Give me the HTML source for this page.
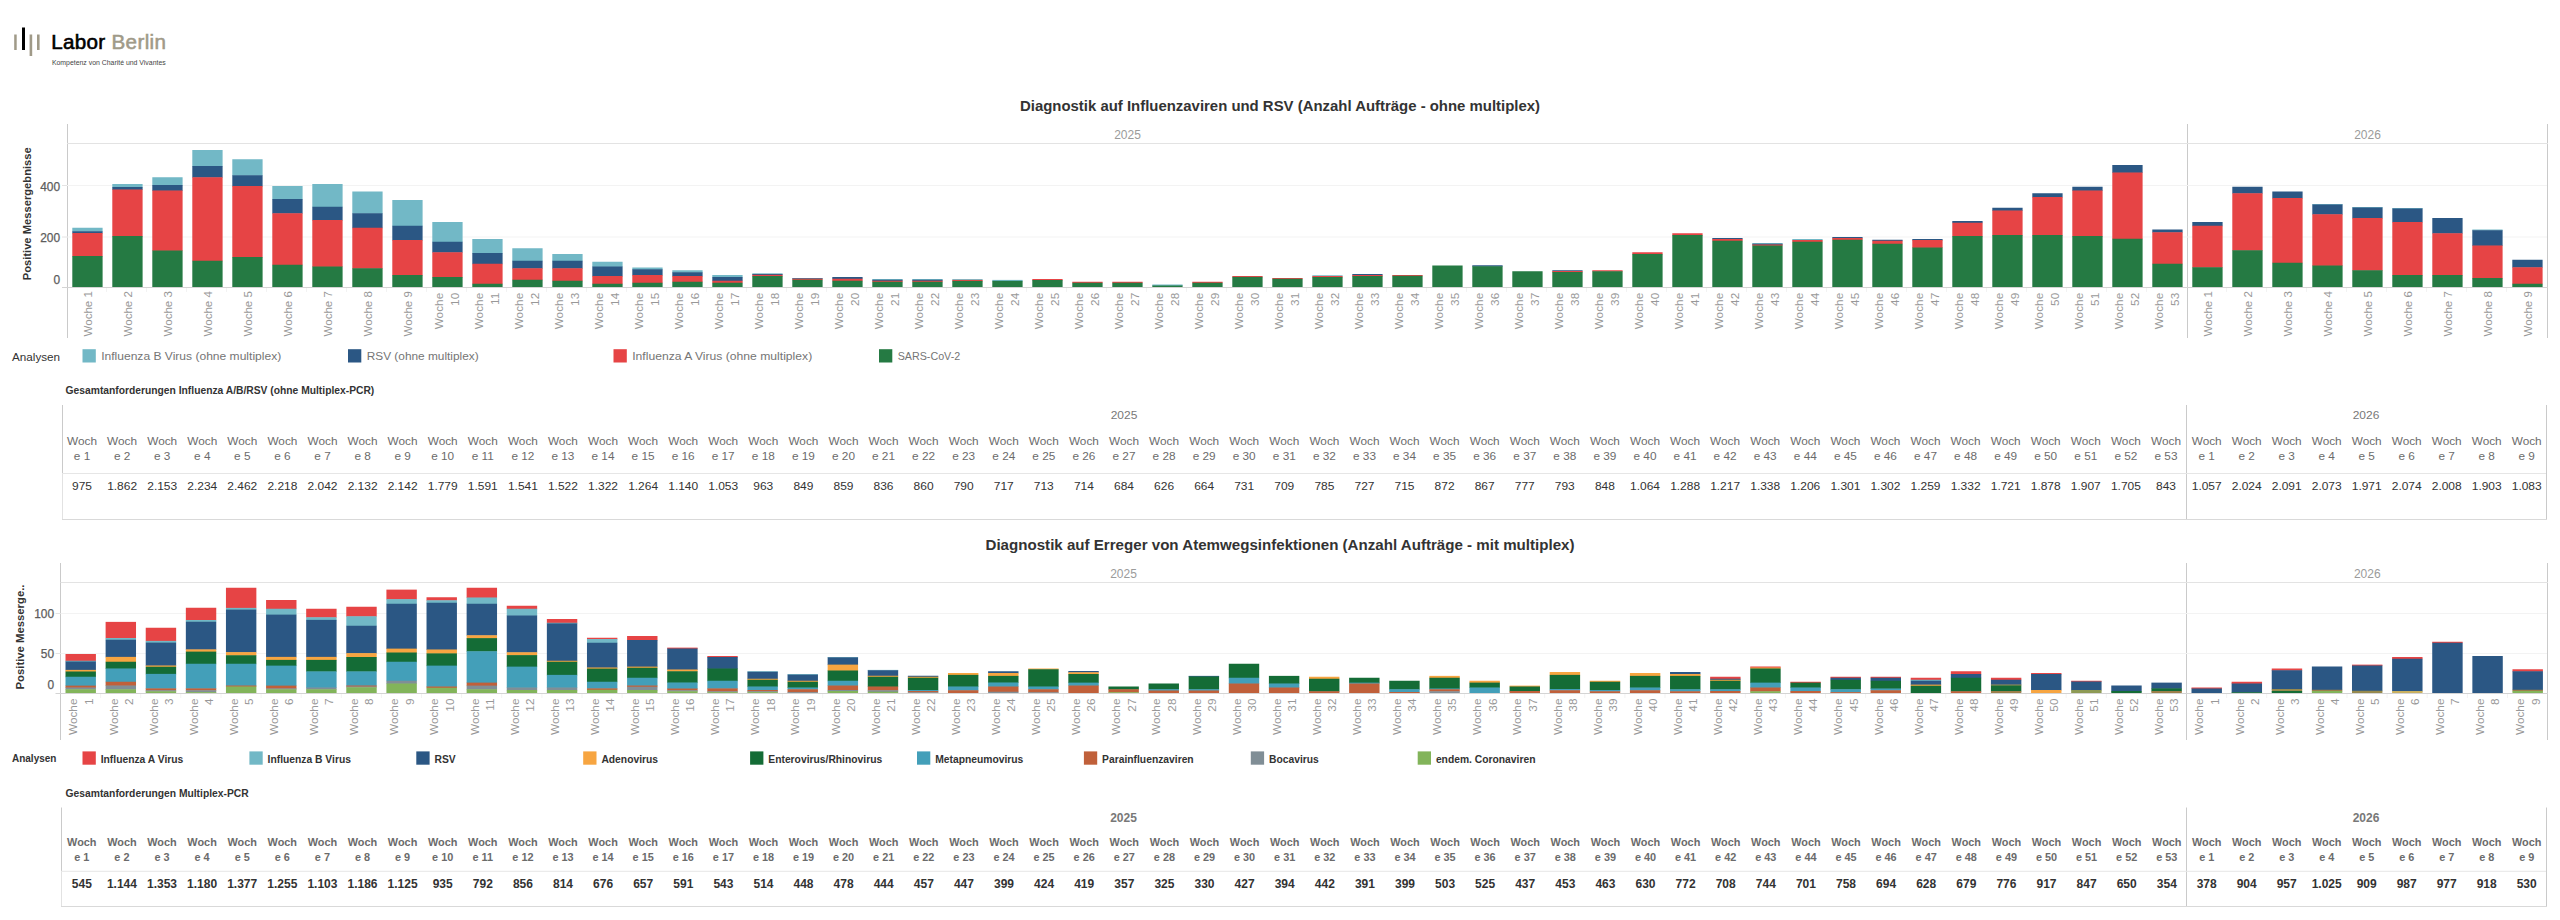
<!DOCTYPE html>
<html lang="de"><head><meta charset="utf-8"><title>Labor Berlin - Diagnostik</title>
<style>html,body{margin:0;padding:0;background:#fff}body{width:2560px;height:920px;overflow:hidden;position:relative}svg{position:absolute;left:0;top:0;display:block}text{font-family:"Liberation Sans", sans-serif;}.b{font-weight:bold}.wk{fill:#989898;font-size:11.8px}.wk1{font-size:11.55px}.tk{fill:#5c5c5c;font-size:11.9px;stroke:#5c5c5c;stroke-width:0.25px}.yr{fill:#9b9b9b;font-size:12px}.th{fill:#6b6b6b;font-size:11.8px}.tv{fill:#333;font-size:12px}.lg{font-size:11.4px;fill:#757575}.tvr{font-size:11.3px}.thb{font-size:10.9px}.lg2{font-size:10.3px;fill:#333;font-weight:bold}</style></head><body>
<svg width="2560" height="920" viewBox="0 0 2560 920">
<rect x="14.20" y="34.50" width="2.50" height="15.50" fill="#a09a88"/>
<rect x="22.00" y="27.50" width="3.00" height="22.50" fill="#000"/>
<rect x="29.60" y="34.50" width="2.60" height="21.50" fill="#a09a88"/>
<rect x="37.00" y="34.50" width="2.60" height="15.50" fill="#a09a88"/>
<text x="51.3" y="49" font-size="20.6" fill="#000" stroke="#000" stroke-width="0.6" letter-spacing="0.3" id="lg1">Labor</text>
<text x="111.4" y="49" font-size="20.6" fill="#a09a88" id="lg2" letter-spacing="0.4" stroke="#a09a88" stroke-width="0.55">Berlin</text>
<text x="51.9" y="65" font-size="7.2" fill="#444" id="lg3" textLength="113.8" lengthAdjust="spacingAndGlyphs">Kompetenz von Charité und Vivantes</text>
<text id="title1" textLength="520" lengthAdjust="spacingAndGlyphs" x="1280" y="110.6" text-anchor="middle" font-size="15.3" class="b" fill="#333">Diagnostik auf Influenzaviren und RSV (Anzahl Aufträge - ohne multiplex)</text>
<text id="title2" textLength="589" lengthAdjust="spacingAndGlyphs" x="1280" y="549.6" text-anchor="middle" font-size="15.3" class="b" fill="#333">Diagnostik auf Erreger von Atemwegsinfektionen (Anzahl Aufträge - mit multiplex)</text>
<line x1="67.5" y1="124" x2="67.5" y2="338" stroke="#cacaca" stroke-width="1"/>
<line x1="2187.5" y1="124" x2="2187.5" y2="338" stroke="#cacaca" stroke-width="1"/>
<line x1="2547.5" y1="124" x2="2547.5" y2="338" stroke="#cacaca" stroke-width="1"/>
<line x1="67" y1="143.5" x2="2548" y2="143.5" stroke="#e3e3e3" stroke-width="1"/>
<line x1="67" y1="185.5" x2="2547" y2="185.5" stroke="#f3f3f3" stroke-width="1"/>
<line x1="67" y1="237" x2="2547" y2="237" stroke="#f3f3f3" stroke-width="1"/>
<line x1="62" y1="185.5" x2="67" y2="185.5" stroke="#e4e4e4" stroke-width="1"/>
<line x1="62" y1="237" x2="67" y2="237" stroke="#e4e4e4" stroke-width="1"/>
<text x="1127.5" y="139" class="yr" text-anchor="middle" >2025</text>
<text x="2367.5" y="139" class="yr" text-anchor="middle" >2026</text>
<rect x="72.30" y="227.75" width="30.30" height="3.95" fill="#72b8c6"/>
<rect x="72.30" y="231.25" width="30.30" height="2.20" fill="#2b5784"/>
<rect x="72.30" y="233.00" width="30.30" height="23.45" fill="#e64445"/>
<rect x="72.30" y="256.00" width="30.30" height="31.00" fill="#257a43"/>
<rect x="112.30" y="184.00" width="30.30" height="3.45" fill="#72b8c6"/>
<rect x="112.30" y="187.00" width="30.30" height="2.95" fill="#2b5784"/>
<rect x="112.30" y="189.50" width="30.30" height="46.95" fill="#e64445"/>
<rect x="112.30" y="236.00" width="30.30" height="51.00" fill="#257a43"/>
<rect x="152.30" y="177.25" width="30.30" height="8.20" fill="#72b8c6"/>
<rect x="152.30" y="185.00" width="30.30" height="5.95" fill="#2b5784"/>
<rect x="152.30" y="190.50" width="30.30" height="60.45" fill="#e64445"/>
<rect x="152.30" y="250.50" width="30.30" height="36.50" fill="#257a43"/>
<rect x="192.30" y="150.00" width="30.30" height="16.45" fill="#72b8c6"/>
<rect x="192.30" y="166.00" width="30.30" height="11.70" fill="#2b5784"/>
<rect x="192.30" y="177.25" width="30.30" height="83.95" fill="#e64445"/>
<rect x="192.30" y="260.75" width="30.30" height="26.25" fill="#257a43"/>
<rect x="232.30" y="159.25" width="30.30" height="16.45" fill="#72b8c6"/>
<rect x="232.30" y="175.25" width="30.30" height="11.20" fill="#2b5784"/>
<rect x="232.30" y="186.00" width="30.30" height="71.45" fill="#e64445"/>
<rect x="232.30" y="257.00" width="30.30" height="30.00" fill="#257a43"/>
<rect x="272.30" y="186.00" width="30.30" height="13.45" fill="#72b8c6"/>
<rect x="272.30" y="199.00" width="30.30" height="14.70" fill="#2b5784"/>
<rect x="272.30" y="213.25" width="30.30" height="51.95" fill="#e64445"/>
<rect x="272.30" y="264.75" width="30.30" height="22.25" fill="#257a43"/>
<rect x="312.30" y="184.00" width="30.30" height="23.20" fill="#72b8c6"/>
<rect x="312.30" y="206.75" width="30.30" height="13.70" fill="#2b5784"/>
<rect x="312.30" y="220.00" width="30.30" height="46.95" fill="#e64445"/>
<rect x="312.30" y="266.50" width="30.30" height="20.50" fill="#257a43"/>
<rect x="352.30" y="191.50" width="30.30" height="22.20" fill="#72b8c6"/>
<rect x="352.30" y="213.25" width="30.30" height="14.95" fill="#2b5784"/>
<rect x="352.30" y="227.75" width="30.30" height="40.95" fill="#e64445"/>
<rect x="352.30" y="268.25" width="30.30" height="18.75" fill="#257a43"/>
<rect x="392.30" y="200.00" width="30.30" height="26.20" fill="#72b8c6"/>
<rect x="392.30" y="225.75" width="30.30" height="14.70" fill="#2b5784"/>
<rect x="392.30" y="240.00" width="30.30" height="35.45" fill="#e64445"/>
<rect x="392.30" y="275.00" width="30.30" height="12.00" fill="#257a43"/>
<rect x="432.30" y="222.00" width="30.30" height="20.20" fill="#72b8c6"/>
<rect x="432.30" y="241.75" width="30.30" height="10.95" fill="#2b5784"/>
<rect x="432.30" y="252.25" width="30.30" height="25.20" fill="#e64445"/>
<rect x="432.30" y="277.00" width="30.30" height="10.00" fill="#257a43"/>
<rect x="472.30" y="239.00" width="30.30" height="14.45" fill="#72b8c6"/>
<rect x="472.30" y="253.00" width="30.30" height="11.20" fill="#2b5784"/>
<rect x="472.30" y="263.75" width="30.30" height="20.45" fill="#e64445"/>
<rect x="472.30" y="283.75" width="30.30" height="3.25" fill="#257a43"/>
<rect x="512.30" y="248.25" width="30.30" height="12.95" fill="#72b8c6"/>
<rect x="512.30" y="260.75" width="30.30" height="7.95" fill="#2b5784"/>
<rect x="512.30" y="268.25" width="30.30" height="11.95" fill="#e64445"/>
<rect x="512.30" y="279.75" width="30.30" height="7.25" fill="#257a43"/>
<rect x="552.30" y="254.00" width="30.30" height="7.20" fill="#72b8c6"/>
<rect x="552.30" y="260.75" width="30.30" height="7.95" fill="#2b5784"/>
<rect x="552.30" y="268.25" width="30.30" height="12.95" fill="#e64445"/>
<rect x="552.30" y="280.75" width="30.30" height="6.25" fill="#257a43"/>
<rect x="592.30" y="261.75" width="30.30" height="5.20" fill="#72b8c6"/>
<rect x="592.30" y="266.50" width="30.30" height="9.95" fill="#2b5784"/>
<rect x="592.30" y="276.00" width="30.30" height="8.20" fill="#e64445"/>
<rect x="592.30" y="283.75" width="30.30" height="3.25" fill="#257a43"/>
<rect x="632.30" y="267.50" width="30.30" height="2.20" fill="#72b8c6"/>
<rect x="632.30" y="269.25" width="30.30" height="6.20" fill="#2b5784"/>
<rect x="632.30" y="275.00" width="30.30" height="8.20" fill="#e64445"/>
<rect x="632.30" y="282.75" width="30.30" height="4.25" fill="#257a43"/>
<rect x="672.30" y="270.25" width="30.30" height="2.45" fill="#72b8c6"/>
<rect x="672.30" y="272.25" width="30.30" height="4.20" fill="#2b5784"/>
<rect x="672.30" y="276.00" width="30.30" height="6.20" fill="#e64445"/>
<rect x="672.30" y="281.75" width="30.30" height="5.25" fill="#257a43"/>
<rect x="712.30" y="275.00" width="30.30" height="2.45" fill="#72b8c6"/>
<rect x="712.30" y="277.00" width="30.30" height="4.20" fill="#2b5784"/>
<rect x="712.30" y="280.75" width="30.30" height="2.45" fill="#e64445"/>
<rect x="712.30" y="282.75" width="30.30" height="4.25" fill="#257a43"/>
<rect x="752.30" y="273.30" width="30.30" height="1.15" fill="#72b8c6"/>
<rect x="752.30" y="274.00" width="30.30" height="1.25" fill="#2b5784"/>
<rect x="752.30" y="274.80" width="30.30" height="1.65" fill="#e64445"/>
<rect x="752.30" y="276.00" width="30.30" height="11.00" fill="#257a43"/>
<rect x="792.30" y="278.00" width="30.30" height="0.70" fill="#72b8c6"/>
<rect x="792.30" y="278.25" width="30.30" height="0.95" fill="#2b5784"/>
<rect x="792.30" y="278.75" width="30.30" height="1.45" fill="#e64445"/>
<rect x="792.30" y="279.75" width="30.30" height="7.25" fill="#257a43"/>
<rect x="832.30" y="277.00" width="30.30" height="2.20" fill="#2b5784"/>
<rect x="832.30" y="278.75" width="30.30" height="2.45" fill="#e64445"/>
<rect x="832.30" y="280.75" width="30.30" height="6.25" fill="#257a43"/>
<rect x="872.30" y="279.00" width="30.30" height="1.20" fill="#72b8c6"/>
<rect x="872.30" y="279.75" width="30.30" height="1.45" fill="#2b5784"/>
<rect x="872.30" y="280.75" width="30.30" height="1.45" fill="#e64445"/>
<rect x="872.30" y="281.75" width="30.30" height="5.25" fill="#257a43"/>
<rect x="912.30" y="279.00" width="30.30" height="1.20" fill="#72b8c6"/>
<rect x="912.30" y="279.75" width="30.30" height="1.45" fill="#2b5784"/>
<rect x="912.30" y="280.75" width="30.30" height="1.45" fill="#e64445"/>
<rect x="912.30" y="281.75" width="30.30" height="5.25" fill="#257a43"/>
<rect x="952.30" y="279.10" width="30.30" height="1.25" fill="#72b8c6"/>
<rect x="952.30" y="279.90" width="30.30" height="1.45" fill="#e64445"/>
<rect x="952.30" y="280.90" width="30.30" height="6.10" fill="#257a43"/>
<rect x="992.30" y="279.90" width="30.30" height="1.45" fill="#72b8c6"/>
<rect x="992.30" y="280.90" width="30.30" height="6.10" fill="#257a43"/>
<rect x="1032.30" y="279.00" width="30.30" height="1.45" fill="#e64445"/>
<rect x="1032.30" y="280.00" width="30.30" height="7.00" fill="#257a43"/>
<rect x="1072.30" y="281.75" width="30.30" height="1.45" fill="#e64445"/>
<rect x="1072.30" y="282.75" width="30.30" height="4.25" fill="#257a43"/>
<rect x="1112.30" y="281.75" width="30.30" height="1.45" fill="#e64445"/>
<rect x="1112.30" y="282.75" width="30.30" height="4.25" fill="#257a43"/>
<rect x="1152.30" y="284.50" width="30.30" height="1.45" fill="#72b8c6"/>
<rect x="1152.30" y="285.50" width="30.30" height="1.50" fill="#257a43"/>
<rect x="1192.30" y="281.75" width="30.30" height="1.45" fill="#e64445"/>
<rect x="1192.30" y="282.75" width="30.30" height="4.25" fill="#257a43"/>
<rect x="1232.30" y="276.00" width="30.30" height="1.35" fill="#e64445"/>
<rect x="1232.30" y="276.90" width="30.30" height="10.10" fill="#257a43"/>
<rect x="1272.30" y="278.00" width="30.30" height="1.20" fill="#e64445"/>
<rect x="1272.30" y="278.75" width="30.30" height="8.25" fill="#257a43"/>
<rect x="1312.30" y="275.25" width="30.30" height="1.20" fill="#72b8c6"/>
<rect x="1312.30" y="276.00" width="30.30" height="1.45" fill="#e64445"/>
<rect x="1312.30" y="277.00" width="30.30" height="10.00" fill="#257a43"/>
<rect x="1352.30" y="274.00" width="30.30" height="1.45" fill="#2b5784"/>
<rect x="1352.30" y="275.00" width="30.30" height="1.45" fill="#e64445"/>
<rect x="1352.30" y="276.00" width="30.30" height="11.00" fill="#257a43"/>
<rect x="1392.30" y="275.00" width="30.30" height="1.20" fill="#e64445"/>
<rect x="1392.30" y="275.75" width="30.30" height="11.25" fill="#257a43"/>
<rect x="1432.30" y="265.50" width="30.30" height="21.50" fill="#257a43"/>
<rect x="1472.30" y="265.25" width="30.30" height="1.45" fill="#2b5784"/>
<rect x="1472.30" y="266.25" width="30.30" height="20.75" fill="#257a43"/>
<rect x="1512.30" y="271.25" width="30.30" height="15.75" fill="#257a43"/>
<rect x="1552.30" y="270.25" width="30.30" height="1.20" fill="#2b5784"/>
<rect x="1552.30" y="271.00" width="30.30" height="1.45" fill="#e64445"/>
<rect x="1552.30" y="272.00" width="30.30" height="15.00" fill="#257a43"/>
<rect x="1592.30" y="270.25" width="30.30" height="1.45" fill="#e64445"/>
<rect x="1592.30" y="271.25" width="30.30" height="15.75" fill="#257a43"/>
<rect x="1632.30" y="252.25" width="30.30" height="2.20" fill="#e64445"/>
<rect x="1632.30" y="254.00" width="30.30" height="33.00" fill="#257a43"/>
<rect x="1672.30" y="233.25" width="30.30" height="2.20" fill="#e64445"/>
<rect x="1672.30" y="235.00" width="30.30" height="52.00" fill="#257a43"/>
<rect x="1712.30" y="238.00" width="30.30" height="1.45" fill="#2b5784"/>
<rect x="1712.30" y="239.00" width="30.30" height="2.20" fill="#e64445"/>
<rect x="1712.30" y="240.75" width="30.30" height="46.25" fill="#257a43"/>
<rect x="1752.30" y="243.00" width="30.30" height="1.20" fill="#72b8c6"/>
<rect x="1752.30" y="243.75" width="30.30" height="1.20" fill="#2b5784"/>
<rect x="1752.30" y="244.50" width="30.30" height="1.45" fill="#e64445"/>
<rect x="1752.30" y="245.50" width="30.30" height="41.50" fill="#257a43"/>
<rect x="1792.30" y="239.00" width="30.30" height="1.45" fill="#72b8c6"/>
<rect x="1792.30" y="240.00" width="30.30" height="2.20" fill="#e64445"/>
<rect x="1792.30" y="241.75" width="30.30" height="45.25" fill="#257a43"/>
<rect x="1832.30" y="237.00" width="30.30" height="1.45" fill="#2b5784"/>
<rect x="1832.30" y="238.00" width="30.30" height="2.20" fill="#e64445"/>
<rect x="1832.30" y="239.75" width="30.30" height="47.25" fill="#257a43"/>
<rect x="1872.30" y="239.75" width="30.30" height="1.45" fill="#2b5784"/>
<rect x="1872.30" y="240.75" width="30.30" height="3.45" fill="#e64445"/>
<rect x="1872.30" y="243.75" width="30.30" height="43.25" fill="#257a43"/>
<rect x="1912.30" y="239.00" width="30.30" height="1.45" fill="#2b5784"/>
<rect x="1912.30" y="240.00" width="30.30" height="7.95" fill="#e64445"/>
<rect x="1912.30" y="247.50" width="30.30" height="39.50" fill="#257a43"/>
<rect x="1952.30" y="221.00" width="30.30" height="2.20" fill="#2b5784"/>
<rect x="1952.30" y="222.75" width="30.30" height="13.70" fill="#e64445"/>
<rect x="1952.30" y="236.00" width="30.30" height="51.00" fill="#257a43"/>
<rect x="1992.30" y="207.75" width="30.30" height="3.20" fill="#2b5784"/>
<rect x="1992.30" y="210.50" width="30.30" height="24.95" fill="#e64445"/>
<rect x="1992.30" y="235.00" width="30.30" height="52.00" fill="#257a43"/>
<rect x="2032.30" y="193.25" width="30.30" height="4.20" fill="#2b5784"/>
<rect x="2032.30" y="197.00" width="30.30" height="38.45" fill="#e64445"/>
<rect x="2032.30" y="235.00" width="30.30" height="52.00" fill="#257a43"/>
<rect x="2072.30" y="186.75" width="30.30" height="4.20" fill="#2b5784"/>
<rect x="2072.30" y="190.50" width="30.30" height="45.95" fill="#e64445"/>
<rect x="2072.30" y="236.00" width="30.30" height="51.00" fill="#257a43"/>
<rect x="2112.30" y="165.00" width="30.30" height="7.95" fill="#2b5784"/>
<rect x="2112.30" y="172.50" width="30.30" height="66.70" fill="#e64445"/>
<rect x="2112.30" y="238.75" width="30.30" height="48.25" fill="#257a43"/>
<rect x="2152.30" y="229.50" width="30.30" height="3.20" fill="#2b5784"/>
<rect x="2152.30" y="232.25" width="30.30" height="31.95" fill="#e64445"/>
<rect x="2152.30" y="263.75" width="30.30" height="23.25" fill="#257a43"/>
<rect x="2192.30" y="222.00" width="30.30" height="4.20" fill="#2b5784"/>
<rect x="2192.30" y="225.75" width="30.30" height="41.95" fill="#e64445"/>
<rect x="2192.30" y="267.25" width="30.30" height="19.75" fill="#257a43"/>
<rect x="2232.30" y="186.75" width="30.30" height="6.95" fill="#2b5784"/>
<rect x="2232.30" y="193.25" width="30.30" height="57.45" fill="#e64445"/>
<rect x="2232.30" y="250.25" width="30.30" height="36.75" fill="#257a43"/>
<rect x="2272.30" y="191.50" width="30.30" height="6.95" fill="#2b5784"/>
<rect x="2272.30" y="198.00" width="30.30" height="65.20" fill="#e64445"/>
<rect x="2272.30" y="262.75" width="30.30" height="24.25" fill="#257a43"/>
<rect x="2312.30" y="204.00" width="30.30" height="0.95" fill="#72b8c6"/>
<rect x="2312.30" y="204.50" width="30.30" height="10.20" fill="#2b5784"/>
<rect x="2312.30" y="214.25" width="30.30" height="51.70" fill="#e64445"/>
<rect x="2312.30" y="265.50" width="30.30" height="21.50" fill="#257a43"/>
<rect x="2352.30" y="207.00" width="30.30" height="0.95" fill="#72b8c6"/>
<rect x="2352.30" y="207.50" width="30.30" height="10.95" fill="#2b5784"/>
<rect x="2352.30" y="218.00" width="30.30" height="52.70" fill="#e64445"/>
<rect x="2352.30" y="270.25" width="30.30" height="16.75" fill="#257a43"/>
<rect x="2392.30" y="208.00" width="30.30" height="0.95" fill="#72b8c6"/>
<rect x="2392.30" y="208.50" width="30.30" height="13.95" fill="#2b5784"/>
<rect x="2392.30" y="222.00" width="30.30" height="53.45" fill="#e64445"/>
<rect x="2392.30" y="275.00" width="30.30" height="12.00" fill="#257a43"/>
<rect x="2432.30" y="218.00" width="30.30" height="15.70" fill="#2b5784"/>
<rect x="2432.30" y="233.25" width="30.30" height="42.20" fill="#e64445"/>
<rect x="2432.30" y="275.00" width="30.30" height="12.00" fill="#257a43"/>
<rect x="2472.30" y="229.50" width="30.30" height="1.20" fill="#72b8c6"/>
<rect x="2472.30" y="230.25" width="30.30" height="15.70" fill="#2b5784"/>
<rect x="2472.30" y="245.50" width="30.30" height="32.95" fill="#e64445"/>
<rect x="2472.30" y="278.00" width="30.30" height="9.00" fill="#257a43"/>
<rect x="2512.30" y="259.75" width="30.30" height="7.95" fill="#2b5784"/>
<rect x="2512.30" y="267.25" width="30.30" height="16.95" fill="#e64445"/>
<rect x="2512.30" y="283.75" width="30.30" height="3.25" fill="#257a43"/>
<line x1="62" y1="287.5" x2="2548" y2="287.5" stroke="#d4d4d4" stroke-width="1"/>
<line x1="106.5" y1="288" x2="106.5" y2="292" stroke="#f3f3f3" stroke-width="1"/>
<line x1="146.5" y1="288" x2="146.5" y2="292" stroke="#f3f3f3" stroke-width="1"/>
<line x1="186.5" y1="288" x2="186.5" y2="292" stroke="#f3f3f3" stroke-width="1"/>
<line x1="226.5" y1="288" x2="226.5" y2="292" stroke="#f3f3f3" stroke-width="1"/>
<line x1="266.5" y1="288" x2="266.5" y2="292" stroke="#f3f3f3" stroke-width="1"/>
<line x1="306.5" y1="288" x2="306.5" y2="292" stroke="#f3f3f3" stroke-width="1"/>
<line x1="346.5" y1="288" x2="346.5" y2="292" stroke="#f3f3f3" stroke-width="1"/>
<line x1="386.5" y1="288" x2="386.5" y2="292" stroke="#f3f3f3" stroke-width="1"/>
<line x1="426.5" y1="288" x2="426.5" y2="292" stroke="#f3f3f3" stroke-width="1"/>
<line x1="466.5" y1="288" x2="466.5" y2="292" stroke="#f3f3f3" stroke-width="1"/>
<line x1="506.5" y1="288" x2="506.5" y2="292" stroke="#f3f3f3" stroke-width="1"/>
<line x1="546.5" y1="288" x2="546.5" y2="292" stroke="#f3f3f3" stroke-width="1"/>
<line x1="586.5" y1="288" x2="586.5" y2="292" stroke="#f3f3f3" stroke-width="1"/>
<line x1="626.5" y1="288" x2="626.5" y2="292" stroke="#f3f3f3" stroke-width="1"/>
<line x1="666.5" y1="288" x2="666.5" y2="292" stroke="#f3f3f3" stroke-width="1"/>
<line x1="706.5" y1="288" x2="706.5" y2="292" stroke="#f3f3f3" stroke-width="1"/>
<line x1="746.5" y1="288" x2="746.5" y2="292" stroke="#f3f3f3" stroke-width="1"/>
<line x1="786.5" y1="288" x2="786.5" y2="292" stroke="#f3f3f3" stroke-width="1"/>
<line x1="826.5" y1="288" x2="826.5" y2="292" stroke="#f3f3f3" stroke-width="1"/>
<line x1="866.5" y1="288" x2="866.5" y2="292" stroke="#f3f3f3" stroke-width="1"/>
<line x1="906.5" y1="288" x2="906.5" y2="292" stroke="#f3f3f3" stroke-width="1"/>
<line x1="946.5" y1="288" x2="946.5" y2="292" stroke="#f3f3f3" stroke-width="1"/>
<line x1="986.5" y1="288" x2="986.5" y2="292" stroke="#f3f3f3" stroke-width="1"/>
<line x1="1026.5" y1="288" x2="1026.5" y2="292" stroke="#f3f3f3" stroke-width="1"/>
<line x1="1066.5" y1="288" x2="1066.5" y2="292" stroke="#f3f3f3" stroke-width="1"/>
<line x1="1106.5" y1="288" x2="1106.5" y2="292" stroke="#f3f3f3" stroke-width="1"/>
<line x1="1146.5" y1="288" x2="1146.5" y2="292" stroke="#f3f3f3" stroke-width="1"/>
<line x1="1186.5" y1="288" x2="1186.5" y2="292" stroke="#f3f3f3" stroke-width="1"/>
<line x1="1226.5" y1="288" x2="1226.5" y2="292" stroke="#f3f3f3" stroke-width="1"/>
<line x1="1266.5" y1="288" x2="1266.5" y2="292" stroke="#f3f3f3" stroke-width="1"/>
<line x1="1306.5" y1="288" x2="1306.5" y2="292" stroke="#f3f3f3" stroke-width="1"/>
<line x1="1346.5" y1="288" x2="1346.5" y2="292" stroke="#f3f3f3" stroke-width="1"/>
<line x1="1386.5" y1="288" x2="1386.5" y2="292" stroke="#f3f3f3" stroke-width="1"/>
<line x1="1426.5" y1="288" x2="1426.5" y2="292" stroke="#f3f3f3" stroke-width="1"/>
<line x1="1466.5" y1="288" x2="1466.5" y2="292" stroke="#f3f3f3" stroke-width="1"/>
<line x1="1506.5" y1="288" x2="1506.5" y2="292" stroke="#f3f3f3" stroke-width="1"/>
<line x1="1546.5" y1="288" x2="1546.5" y2="292" stroke="#f3f3f3" stroke-width="1"/>
<line x1="1586.5" y1="288" x2="1586.5" y2="292" stroke="#f3f3f3" stroke-width="1"/>
<line x1="1626.5" y1="288" x2="1626.5" y2="292" stroke="#f3f3f3" stroke-width="1"/>
<line x1="1666.5" y1="288" x2="1666.5" y2="292" stroke="#f3f3f3" stroke-width="1"/>
<line x1="1706.5" y1="288" x2="1706.5" y2="292" stroke="#f3f3f3" stroke-width="1"/>
<line x1="1746.5" y1="288" x2="1746.5" y2="292" stroke="#f3f3f3" stroke-width="1"/>
<line x1="1786.5" y1="288" x2="1786.5" y2="292" stroke="#f3f3f3" stroke-width="1"/>
<line x1="1826.5" y1="288" x2="1826.5" y2="292" stroke="#f3f3f3" stroke-width="1"/>
<line x1="1866.5" y1="288" x2="1866.5" y2="292" stroke="#f3f3f3" stroke-width="1"/>
<line x1="1906.5" y1="288" x2="1906.5" y2="292" stroke="#f3f3f3" stroke-width="1"/>
<line x1="1946.5" y1="288" x2="1946.5" y2="292" stroke="#f3f3f3" stroke-width="1"/>
<line x1="1986.5" y1="288" x2="1986.5" y2="292" stroke="#f3f3f3" stroke-width="1"/>
<line x1="2026.5" y1="288" x2="2026.5" y2="292" stroke="#f3f3f3" stroke-width="1"/>
<line x1="2066.5" y1="288" x2="2066.5" y2="292" stroke="#f3f3f3" stroke-width="1"/>
<line x1="2106.5" y1="288" x2="2106.5" y2="292" stroke="#f3f3f3" stroke-width="1"/>
<line x1="2146.5" y1="288" x2="2146.5" y2="292" stroke="#f3f3f3" stroke-width="1"/>
<line x1="2226.5" y1="288" x2="2226.5" y2="292" stroke="#f3f3f3" stroke-width="1"/>
<line x1="2266.5" y1="288" x2="2266.5" y2="292" stroke="#f3f3f3" stroke-width="1"/>
<line x1="2306.5" y1="288" x2="2306.5" y2="292" stroke="#f3f3f3" stroke-width="1"/>
<line x1="2346.5" y1="288" x2="2346.5" y2="292" stroke="#f3f3f3" stroke-width="1"/>
<line x1="2386.5" y1="288" x2="2386.5" y2="292" stroke="#f3f3f3" stroke-width="1"/>
<line x1="2426.5" y1="288" x2="2426.5" y2="292" stroke="#f3f3f3" stroke-width="1"/>
<line x1="2466.5" y1="288" x2="2466.5" y2="292" stroke="#f3f3f3" stroke-width="1"/>
<line x1="2506.5" y1="288" x2="2506.5" y2="292" stroke="#f3f3f3" stroke-width="1"/>
<text x="60" y="190.8" class="tk" text-anchor="end" >400</text>
<text x="60" y="241.9" class="tk" text-anchor="end" >200</text>
<text x="60" y="283.5" class="tk" text-anchor="end" >0</text>
<text transform="translate(30.6,213.8) rotate(-90)" class="b" text-anchor="middle" font-size="11.2" fill="#333" id="yt1">Positive Messergebnisse</text>
<text transform="translate(91.5,291.1) rotate(-90)" class="wk wk1" text-anchor="end" >Woche 1</text>
<text transform="translate(131.5,291.1) rotate(-90)" class="wk wk1" text-anchor="end" >Woche 2</text>
<text transform="translate(171.5,291.1) rotate(-90)" class="wk wk1" text-anchor="end" >Woche 3</text>
<text transform="translate(211.5,291.1) rotate(-90)" class="wk wk1" text-anchor="end" >Woche 4</text>
<text transform="translate(251.5,291.1) rotate(-90)" class="wk wk1" text-anchor="end" >Woche 5</text>
<text transform="translate(291.5,291.1) rotate(-90)" class="wk wk1" text-anchor="end" >Woche 6</text>
<text transform="translate(331.5,291.1) rotate(-90)" class="wk wk1" text-anchor="end" >Woche 7</text>
<text transform="translate(371.5,291.1) rotate(-90)" class="wk wk1" text-anchor="end" >Woche 8</text>
<text transform="translate(411.5,291.1) rotate(-90)" class="wk wk1" text-anchor="end" >Woche 9</text>
<text transform="translate(443.2,292.8) rotate(-90)" class="wk" text-anchor="end" >Woche</text>
<text transform="translate(459.0,292.8) rotate(-90)" class="wk" text-anchor="end" >10</text>
<text transform="translate(483.2,292.8) rotate(-90)" class="wk" text-anchor="end" >Woche</text>
<text transform="translate(499.0,292.8) rotate(-90)" class="wk" text-anchor="end" >11</text>
<text transform="translate(523.2,292.8) rotate(-90)" class="wk" text-anchor="end" >Woche</text>
<text transform="translate(539.0,292.8) rotate(-90)" class="wk" text-anchor="end" >12</text>
<text transform="translate(563.2,292.8) rotate(-90)" class="wk" text-anchor="end" >Woche</text>
<text transform="translate(579.0,292.8) rotate(-90)" class="wk" text-anchor="end" >13</text>
<text transform="translate(603.2,292.8) rotate(-90)" class="wk" text-anchor="end" >Woche</text>
<text transform="translate(619.0,292.8) rotate(-90)" class="wk" text-anchor="end" >14</text>
<text transform="translate(643.2,292.8) rotate(-90)" class="wk" text-anchor="end" >Woche</text>
<text transform="translate(659.0,292.8) rotate(-90)" class="wk" text-anchor="end" >15</text>
<text transform="translate(683.2,292.8) rotate(-90)" class="wk" text-anchor="end" >Woche</text>
<text transform="translate(699.0,292.8) rotate(-90)" class="wk" text-anchor="end" >16</text>
<text transform="translate(723.2,292.8) rotate(-90)" class="wk" text-anchor="end" >Woche</text>
<text transform="translate(739.0,292.8) rotate(-90)" class="wk" text-anchor="end" >17</text>
<text transform="translate(763.2,292.8) rotate(-90)" class="wk" text-anchor="end" >Woche</text>
<text transform="translate(779.0,292.8) rotate(-90)" class="wk" text-anchor="end" >18</text>
<text transform="translate(803.2,292.8) rotate(-90)" class="wk" text-anchor="end" >Woche</text>
<text transform="translate(819.0,292.8) rotate(-90)" class="wk" text-anchor="end" >19</text>
<text transform="translate(843.2,292.8) rotate(-90)" class="wk" text-anchor="end" >Woche</text>
<text transform="translate(859.0,292.8) rotate(-90)" class="wk" text-anchor="end" >20</text>
<text transform="translate(883.2,292.8) rotate(-90)" class="wk" text-anchor="end" >Woche</text>
<text transform="translate(899.0,292.8) rotate(-90)" class="wk" text-anchor="end" >21</text>
<text transform="translate(923.2,292.8) rotate(-90)" class="wk" text-anchor="end" >Woche</text>
<text transform="translate(939.0,292.8) rotate(-90)" class="wk" text-anchor="end" >22</text>
<text transform="translate(963.2,292.8) rotate(-90)" class="wk" text-anchor="end" >Woche</text>
<text transform="translate(979.0,292.8) rotate(-90)" class="wk" text-anchor="end" >23</text>
<text transform="translate(1003.2,292.8) rotate(-90)" class="wk" text-anchor="end" >Woche</text>
<text transform="translate(1019.0,292.8) rotate(-90)" class="wk" text-anchor="end" >24</text>
<text transform="translate(1043.2,292.8) rotate(-90)" class="wk" text-anchor="end" >Woche</text>
<text transform="translate(1059.0,292.8) rotate(-90)" class="wk" text-anchor="end" >25</text>
<text transform="translate(1083.2,292.8) rotate(-90)" class="wk" text-anchor="end" >Woche</text>
<text transform="translate(1099.0,292.8) rotate(-90)" class="wk" text-anchor="end" >26</text>
<text transform="translate(1123.2,292.8) rotate(-90)" class="wk" text-anchor="end" >Woche</text>
<text transform="translate(1139.0,292.8) rotate(-90)" class="wk" text-anchor="end" >27</text>
<text transform="translate(1163.2,292.8) rotate(-90)" class="wk" text-anchor="end" >Woche</text>
<text transform="translate(1179.0,292.8) rotate(-90)" class="wk" text-anchor="end" >28</text>
<text transform="translate(1203.2,292.8) rotate(-90)" class="wk" text-anchor="end" >Woche</text>
<text transform="translate(1219.0,292.8) rotate(-90)" class="wk" text-anchor="end" >29</text>
<text transform="translate(1243.2,292.8) rotate(-90)" class="wk" text-anchor="end" >Woche</text>
<text transform="translate(1259.0,292.8) rotate(-90)" class="wk" text-anchor="end" >30</text>
<text transform="translate(1283.2,292.8) rotate(-90)" class="wk" text-anchor="end" >Woche</text>
<text transform="translate(1299.0,292.8) rotate(-90)" class="wk" text-anchor="end" >31</text>
<text transform="translate(1323.2,292.8) rotate(-90)" class="wk" text-anchor="end" >Woche</text>
<text transform="translate(1339.0,292.8) rotate(-90)" class="wk" text-anchor="end" >32</text>
<text transform="translate(1363.2,292.8) rotate(-90)" class="wk" text-anchor="end" >Woche</text>
<text transform="translate(1379.0,292.8) rotate(-90)" class="wk" text-anchor="end" >33</text>
<text transform="translate(1403.2,292.8) rotate(-90)" class="wk" text-anchor="end" >Woche</text>
<text transform="translate(1419.0,292.8) rotate(-90)" class="wk" text-anchor="end" >34</text>
<text transform="translate(1443.2,292.8) rotate(-90)" class="wk" text-anchor="end" >Woche</text>
<text transform="translate(1459.0,292.8) rotate(-90)" class="wk" text-anchor="end" >35</text>
<text transform="translate(1483.2,292.8) rotate(-90)" class="wk" text-anchor="end" >Woche</text>
<text transform="translate(1499.0,292.8) rotate(-90)" class="wk" text-anchor="end" >36</text>
<text transform="translate(1523.2,292.8) rotate(-90)" class="wk" text-anchor="end" >Woche</text>
<text transform="translate(1539.0,292.8) rotate(-90)" class="wk" text-anchor="end" >37</text>
<text transform="translate(1563.2,292.8) rotate(-90)" class="wk" text-anchor="end" >Woche</text>
<text transform="translate(1579.0,292.8) rotate(-90)" class="wk" text-anchor="end" >38</text>
<text transform="translate(1603.2,292.8) rotate(-90)" class="wk" text-anchor="end" >Woche</text>
<text transform="translate(1619.0,292.8) rotate(-90)" class="wk" text-anchor="end" >39</text>
<text transform="translate(1643.2,292.8) rotate(-90)" class="wk" text-anchor="end" >Woche</text>
<text transform="translate(1659.0,292.8) rotate(-90)" class="wk" text-anchor="end" >40</text>
<text transform="translate(1683.2,292.8) rotate(-90)" class="wk" text-anchor="end" >Woche</text>
<text transform="translate(1699.0,292.8) rotate(-90)" class="wk" text-anchor="end" >41</text>
<text transform="translate(1723.2,292.8) rotate(-90)" class="wk" text-anchor="end" >Woche</text>
<text transform="translate(1739.0,292.8) rotate(-90)" class="wk" text-anchor="end" >42</text>
<text transform="translate(1763.2,292.8) rotate(-90)" class="wk" text-anchor="end" >Woche</text>
<text transform="translate(1779.0,292.8) rotate(-90)" class="wk" text-anchor="end" >43</text>
<text transform="translate(1803.2,292.8) rotate(-90)" class="wk" text-anchor="end" >Woche</text>
<text transform="translate(1819.0,292.8) rotate(-90)" class="wk" text-anchor="end" >44</text>
<text transform="translate(1843.2,292.8) rotate(-90)" class="wk" text-anchor="end" >Woche</text>
<text transform="translate(1859.0,292.8) rotate(-90)" class="wk" text-anchor="end" >45</text>
<text transform="translate(1883.2,292.8) rotate(-90)" class="wk" text-anchor="end" >Woche</text>
<text transform="translate(1899.0,292.8) rotate(-90)" class="wk" text-anchor="end" >46</text>
<text transform="translate(1923.2,292.8) rotate(-90)" class="wk" text-anchor="end" >Woche</text>
<text transform="translate(1939.0,292.8) rotate(-90)" class="wk" text-anchor="end" >47</text>
<text transform="translate(1963.2,292.8) rotate(-90)" class="wk" text-anchor="end" >Woche</text>
<text transform="translate(1979.0,292.8) rotate(-90)" class="wk" text-anchor="end" >48</text>
<text transform="translate(2003.2,292.8) rotate(-90)" class="wk" text-anchor="end" >Woche</text>
<text transform="translate(2019.0,292.8) rotate(-90)" class="wk" text-anchor="end" >49</text>
<text transform="translate(2043.2,292.8) rotate(-90)" class="wk" text-anchor="end" >Woche</text>
<text transform="translate(2059.0,292.8) rotate(-90)" class="wk" text-anchor="end" >50</text>
<text transform="translate(2083.2,292.8) rotate(-90)" class="wk" text-anchor="end" >Woche</text>
<text transform="translate(2099.0,292.8) rotate(-90)" class="wk" text-anchor="end" >51</text>
<text transform="translate(2123.2,292.8) rotate(-90)" class="wk" text-anchor="end" >Woche</text>
<text transform="translate(2139.0,292.8) rotate(-90)" class="wk" text-anchor="end" >52</text>
<text transform="translate(2163.2,292.8) rotate(-90)" class="wk" text-anchor="end" >Woche</text>
<text transform="translate(2179.0,292.8) rotate(-90)" class="wk" text-anchor="end" >53</text>
<text transform="translate(2211.5,291.1) rotate(-90)" class="wk wk1" text-anchor="end" >Woche 1</text>
<text transform="translate(2251.5,291.1) rotate(-90)" class="wk wk1" text-anchor="end" >Woche 2</text>
<text transform="translate(2291.5,291.1) rotate(-90)" class="wk wk1" text-anchor="end" >Woche 3</text>
<text transform="translate(2331.5,291.1) rotate(-90)" class="wk wk1" text-anchor="end" >Woche 4</text>
<text transform="translate(2371.5,291.1) rotate(-90)" class="wk wk1" text-anchor="end" >Woche 5</text>
<text transform="translate(2411.5,291.1) rotate(-90)" class="wk wk1" text-anchor="end" >Woche 6</text>
<text transform="translate(2451.5,291.1) rotate(-90)" class="wk wk1" text-anchor="end" >Woche 7</text>
<text transform="translate(2491.5,291.1) rotate(-90)" class="wk wk1" text-anchor="end" >Woche 8</text>
<text transform="translate(2531.5,291.1) rotate(-90)" class="wk wk1" text-anchor="end" >Woche 9</text>
<text x="12" y="360.6" class="" text-anchor="start" font-size="11.7" fill="#333">Analysen</text>
<rect x="82.50" y="349.20" width="13.30" height="13.30" fill="#72b8c6"/>
<text x="101.2" y="359.9" class="lg" text-anchor="start" textLength="180" lengthAdjust="spacingAndGlyphs">Influenza B Virus (ohne multiplex)</text>
<rect x="348.00" y="349.20" width="13.30" height="13.30" fill="#2b5784"/>
<text x="366.7" y="359.9" class="lg" text-anchor="start" textLength="112" lengthAdjust="spacingAndGlyphs">RSV (ohne multiplex)</text>
<rect x="613.50" y="349.20" width="13.30" height="13.30" fill="#e64445"/>
<text x="632.2" y="359.9" class="lg" text-anchor="start" textLength="180" lengthAdjust="spacingAndGlyphs">Influenza A Virus (ohne multiplex)</text>
<rect x="879.00" y="349.20" width="13.30" height="13.30" fill="#257a43"/>
<text x="897.7" y="359.9" class="lg" text-anchor="start" textLength="62.5" lengthAdjust="spacingAndGlyphs">SARS-CoV-2</text>
<text x="65.6" y="394" class="b" text-anchor="start" font-size="10.9" fill="#333" id="tt1" textLength="308.7" lengthAdjust="spacingAndGlyphs">Gesamtanforderungen Influenza A/B/RSV (ohne Multiplex-PCR)</text>
<line x1="62.5" y1="405" x2="62.5" y2="473.5" stroke="#cacaca" stroke-width="1"/>
<line x1="62.5" y1="473.5" x2="62.5" y2="519" stroke="#e2e2e2" stroke-width="1"/>
<line x1="2186.5" y1="405" x2="2186.5" y2="519" stroke="#cacaca" stroke-width="1"/>
<line x1="2546.5" y1="405" x2="2546.5" y2="519" stroke="#cacaca" stroke-width="1"/>
<line x1="62" y1="519.5" x2="2547" y2="519.5" stroke="#d9d9d9" stroke-width="1"/>
<line x1="62" y1="473.5" x2="2546" y2="473.5" stroke="#e6e6e6" stroke-width="1"/>
<text transform="translate(1124.0,419.3) scale(1.06,1)" class="yr tvr" text-anchor="middle" style="fill:#787878">2025</text>
<text transform="translate(2366.0,419.3) scale(1.06,1)" class="yr tvr" text-anchor="middle" style="fill:#787878">2026</text>
<text x="82.0" y="444.6" class="th" text-anchor="middle" >Woch</text>
<text x="82.0" y="460" class="th" text-anchor="middle" >e 1</text>
<text transform="translate(82.0,489.5) scale(1.06,1)" class="tv tvr" text-anchor="middle">975</text>
<text x="122.1" y="444.6" class="th" text-anchor="middle" >Woch</text>
<text x="122.1" y="460" class="th" text-anchor="middle" >e 2</text>
<text transform="translate(122.1,489.5) scale(1.06,1)" class="tv tvr" text-anchor="middle">1.862</text>
<text x="162.2" y="444.6" class="th" text-anchor="middle" >Woch</text>
<text x="162.2" y="460" class="th" text-anchor="middle" >e 3</text>
<text transform="translate(162.2,489.5) scale(1.06,1)" class="tv tvr" text-anchor="middle">2.153</text>
<text x="202.3" y="444.6" class="th" text-anchor="middle" >Woch</text>
<text x="202.3" y="460" class="th" text-anchor="middle" >e 4</text>
<text transform="translate(202.3,489.5) scale(1.06,1)" class="tv tvr" text-anchor="middle">2.234</text>
<text x="242.3" y="444.6" class="th" text-anchor="middle" >Woch</text>
<text x="242.3" y="460" class="th" text-anchor="middle" >e 5</text>
<text transform="translate(242.3,489.5) scale(1.06,1)" class="tv tvr" text-anchor="middle">2.462</text>
<text x="282.4" y="444.6" class="th" text-anchor="middle" >Woch</text>
<text x="282.4" y="460" class="th" text-anchor="middle" >e 6</text>
<text transform="translate(282.4,489.5) scale(1.06,1)" class="tv tvr" text-anchor="middle">2.218</text>
<text x="322.5" y="444.6" class="th" text-anchor="middle" >Woch</text>
<text x="322.5" y="460" class="th" text-anchor="middle" >e 7</text>
<text transform="translate(322.5,489.5) scale(1.06,1)" class="tv tvr" text-anchor="middle">2.042</text>
<text x="362.6" y="444.6" class="th" text-anchor="middle" >Woch</text>
<text x="362.6" y="460" class="th" text-anchor="middle" >e 8</text>
<text transform="translate(362.6,489.5) scale(1.06,1)" class="tv tvr" text-anchor="middle">2.132</text>
<text x="402.6" y="444.6" class="th" text-anchor="middle" >Woch</text>
<text x="402.6" y="460" class="th" text-anchor="middle" >e 9</text>
<text transform="translate(402.6,489.5) scale(1.06,1)" class="tv tvr" text-anchor="middle">2.142</text>
<text x="442.7" y="444.6" class="th" text-anchor="middle" >Woch</text>
<text x="442.7" y="460" class="th" text-anchor="middle" >e 10</text>
<text transform="translate(442.7,489.5) scale(1.06,1)" class="tv tvr" text-anchor="middle">1.779</text>
<text x="482.8" y="444.6" class="th" text-anchor="middle" >Woch</text>
<text x="482.8" y="460" class="th" text-anchor="middle" >e 11</text>
<text transform="translate(482.8,489.5) scale(1.06,1)" class="tv tvr" text-anchor="middle">1.591</text>
<text x="522.9" y="444.6" class="th" text-anchor="middle" >Woch</text>
<text x="522.9" y="460" class="th" text-anchor="middle" >e 12</text>
<text transform="translate(522.9,489.5) scale(1.06,1)" class="tv tvr" text-anchor="middle">1.541</text>
<text x="562.9" y="444.6" class="th" text-anchor="middle" >Woch</text>
<text x="562.9" y="460" class="th" text-anchor="middle" >e 13</text>
<text transform="translate(562.9,489.5) scale(1.06,1)" class="tv tvr" text-anchor="middle">1.522</text>
<text x="603.0" y="444.6" class="th" text-anchor="middle" >Woch</text>
<text x="603.0" y="460" class="th" text-anchor="middle" >e 14</text>
<text transform="translate(603.0,489.5) scale(1.06,1)" class="tv tvr" text-anchor="middle">1.322</text>
<text x="643.1" y="444.6" class="th" text-anchor="middle" >Woch</text>
<text x="643.1" y="460" class="th" text-anchor="middle" >e 15</text>
<text transform="translate(643.1,489.5) scale(1.06,1)" class="tv tvr" text-anchor="middle">1.264</text>
<text x="683.2" y="444.6" class="th" text-anchor="middle" >Woch</text>
<text x="683.2" y="460" class="th" text-anchor="middle" >e 16</text>
<text transform="translate(683.2,489.5) scale(1.06,1)" class="tv tvr" text-anchor="middle">1.140</text>
<text x="723.2" y="444.6" class="th" text-anchor="middle" >Woch</text>
<text x="723.2" y="460" class="th" text-anchor="middle" >e 17</text>
<text transform="translate(723.2,489.5) scale(1.06,1)" class="tv tvr" text-anchor="middle">1.053</text>
<text x="763.3" y="444.6" class="th" text-anchor="middle" >Woch</text>
<text x="763.3" y="460" class="th" text-anchor="middle" >e 18</text>
<text transform="translate(763.3,489.5) scale(1.06,1)" class="tv tvr" text-anchor="middle">963</text>
<text x="803.4" y="444.6" class="th" text-anchor="middle" >Woch</text>
<text x="803.4" y="460" class="th" text-anchor="middle" >e 19</text>
<text transform="translate(803.4,489.5) scale(1.06,1)" class="tv tvr" text-anchor="middle">849</text>
<text x="843.5" y="444.6" class="th" text-anchor="middle" >Woch</text>
<text x="843.5" y="460" class="th" text-anchor="middle" >e 20</text>
<text transform="translate(843.5,489.5) scale(1.06,1)" class="tv tvr" text-anchor="middle">859</text>
<text x="883.5" y="444.6" class="th" text-anchor="middle" >Woch</text>
<text x="883.5" y="460" class="th" text-anchor="middle" >e 21</text>
<text transform="translate(883.5,489.5) scale(1.06,1)" class="tv tvr" text-anchor="middle">836</text>
<text x="923.6" y="444.6" class="th" text-anchor="middle" >Woch</text>
<text x="923.6" y="460" class="th" text-anchor="middle" >e 22</text>
<text transform="translate(923.6,489.5) scale(1.06,1)" class="tv tvr" text-anchor="middle">860</text>
<text x="963.7" y="444.6" class="th" text-anchor="middle" >Woch</text>
<text x="963.7" y="460" class="th" text-anchor="middle" >e 23</text>
<text transform="translate(963.7,489.5) scale(1.06,1)" class="tv tvr" text-anchor="middle">790</text>
<text x="1003.8" y="444.6" class="th" text-anchor="middle" >Woch</text>
<text x="1003.8" y="460" class="th" text-anchor="middle" >e 24</text>
<text transform="translate(1003.8,489.5) scale(1.06,1)" class="tv tvr" text-anchor="middle">717</text>
<text x="1043.8" y="444.6" class="th" text-anchor="middle" >Woch</text>
<text x="1043.8" y="460" class="th" text-anchor="middle" >e 25</text>
<text transform="translate(1043.8,489.5) scale(1.06,1)" class="tv tvr" text-anchor="middle">713</text>
<text x="1083.9" y="444.6" class="th" text-anchor="middle" >Woch</text>
<text x="1083.9" y="460" class="th" text-anchor="middle" >e 26</text>
<text transform="translate(1083.9,489.5) scale(1.06,1)" class="tv tvr" text-anchor="middle">714</text>
<text x="1124.0" y="444.6" class="th" text-anchor="middle" >Woch</text>
<text x="1124.0" y="460" class="th" text-anchor="middle" >e 27</text>
<text transform="translate(1124.0,489.5) scale(1.06,1)" class="tv tvr" text-anchor="middle">684</text>
<text x="1164.1" y="444.6" class="th" text-anchor="middle" >Woch</text>
<text x="1164.1" y="460" class="th" text-anchor="middle" >e 28</text>
<text transform="translate(1164.1,489.5) scale(1.06,1)" class="tv tvr" text-anchor="middle">626</text>
<text x="1204.2" y="444.6" class="th" text-anchor="middle" >Woch</text>
<text x="1204.2" y="460" class="th" text-anchor="middle" >e 29</text>
<text transform="translate(1204.2,489.5) scale(1.06,1)" class="tv tvr" text-anchor="middle">664</text>
<text x="1244.2" y="444.6" class="th" text-anchor="middle" >Woch</text>
<text x="1244.2" y="460" class="th" text-anchor="middle" >e 30</text>
<text transform="translate(1244.2,489.5) scale(1.06,1)" class="tv tvr" text-anchor="middle">731</text>
<text x="1284.3" y="444.6" class="th" text-anchor="middle" >Woch</text>
<text x="1284.3" y="460" class="th" text-anchor="middle" >e 31</text>
<text transform="translate(1284.3,489.5) scale(1.06,1)" class="tv tvr" text-anchor="middle">709</text>
<text x="1324.4" y="444.6" class="th" text-anchor="middle" >Woch</text>
<text x="1324.4" y="460" class="th" text-anchor="middle" >e 32</text>
<text transform="translate(1324.4,489.5) scale(1.06,1)" class="tv tvr" text-anchor="middle">785</text>
<text x="1364.5" y="444.6" class="th" text-anchor="middle" >Woch</text>
<text x="1364.5" y="460" class="th" text-anchor="middle" >e 33</text>
<text transform="translate(1364.5,489.5) scale(1.06,1)" class="tv tvr" text-anchor="middle">727</text>
<text x="1404.5" y="444.6" class="th" text-anchor="middle" >Woch</text>
<text x="1404.5" y="460" class="th" text-anchor="middle" >e 34</text>
<text transform="translate(1404.5,489.5) scale(1.06,1)" class="tv tvr" text-anchor="middle">715</text>
<text x="1444.6" y="444.6" class="th" text-anchor="middle" >Woch</text>
<text x="1444.6" y="460" class="th" text-anchor="middle" >e 35</text>
<text transform="translate(1444.6,489.5) scale(1.06,1)" class="tv tvr" text-anchor="middle">872</text>
<text x="1484.7" y="444.6" class="th" text-anchor="middle" >Woch</text>
<text x="1484.7" y="460" class="th" text-anchor="middle" >e 36</text>
<text transform="translate(1484.7,489.5) scale(1.06,1)" class="tv tvr" text-anchor="middle">867</text>
<text x="1524.8" y="444.6" class="th" text-anchor="middle" >Woch</text>
<text x="1524.8" y="460" class="th" text-anchor="middle" >e 37</text>
<text transform="translate(1524.8,489.5) scale(1.06,1)" class="tv tvr" text-anchor="middle">777</text>
<text x="1564.8" y="444.6" class="th" text-anchor="middle" >Woch</text>
<text x="1564.8" y="460" class="th" text-anchor="middle" >e 38</text>
<text transform="translate(1564.8,489.5) scale(1.06,1)" class="tv tvr" text-anchor="middle">793</text>
<text x="1604.9" y="444.6" class="th" text-anchor="middle" >Woch</text>
<text x="1604.9" y="460" class="th" text-anchor="middle" >e 39</text>
<text transform="translate(1604.9,489.5) scale(1.06,1)" class="tv tvr" text-anchor="middle">848</text>
<text x="1645.0" y="444.6" class="th" text-anchor="middle" >Woch</text>
<text x="1645.0" y="460" class="th" text-anchor="middle" >e 40</text>
<text transform="translate(1645.0,489.5) scale(1.06,1)" class="tv tvr" text-anchor="middle">1.064</text>
<text x="1685.1" y="444.6" class="th" text-anchor="middle" >Woch</text>
<text x="1685.1" y="460" class="th" text-anchor="middle" >e 41</text>
<text transform="translate(1685.1,489.5) scale(1.06,1)" class="tv tvr" text-anchor="middle">1.288</text>
<text x="1725.1" y="444.6" class="th" text-anchor="middle" >Woch</text>
<text x="1725.1" y="460" class="th" text-anchor="middle" >e 42</text>
<text transform="translate(1725.1,489.5) scale(1.06,1)" class="tv tvr" text-anchor="middle">1.217</text>
<text x="1765.2" y="444.6" class="th" text-anchor="middle" >Woch</text>
<text x="1765.2" y="460" class="th" text-anchor="middle" >e 43</text>
<text transform="translate(1765.2,489.5) scale(1.06,1)" class="tv tvr" text-anchor="middle">1.338</text>
<text x="1805.3" y="444.6" class="th" text-anchor="middle" >Woch</text>
<text x="1805.3" y="460" class="th" text-anchor="middle" >e 44</text>
<text transform="translate(1805.3,489.5) scale(1.06,1)" class="tv tvr" text-anchor="middle">1.206</text>
<text x="1845.4" y="444.6" class="th" text-anchor="middle" >Woch</text>
<text x="1845.4" y="460" class="th" text-anchor="middle" >e 45</text>
<text transform="translate(1845.4,489.5) scale(1.06,1)" class="tv tvr" text-anchor="middle">1.301</text>
<text x="1885.4" y="444.6" class="th" text-anchor="middle" >Woch</text>
<text x="1885.4" y="460" class="th" text-anchor="middle" >e 46</text>
<text transform="translate(1885.4,489.5) scale(1.06,1)" class="tv tvr" text-anchor="middle">1.302</text>
<text x="1925.5" y="444.6" class="th" text-anchor="middle" >Woch</text>
<text x="1925.5" y="460" class="th" text-anchor="middle" >e 47</text>
<text transform="translate(1925.5,489.5) scale(1.06,1)" class="tv tvr" text-anchor="middle">1.259</text>
<text x="1965.6" y="444.6" class="th" text-anchor="middle" >Woch</text>
<text x="1965.6" y="460" class="th" text-anchor="middle" >e 48</text>
<text transform="translate(1965.6,489.5) scale(1.06,1)" class="tv tvr" text-anchor="middle">1.332</text>
<text x="2005.7" y="444.6" class="th" text-anchor="middle" >Woch</text>
<text x="2005.7" y="460" class="th" text-anchor="middle" >e 49</text>
<text transform="translate(2005.7,489.5) scale(1.06,1)" class="tv tvr" text-anchor="middle">1.721</text>
<text x="2045.7" y="444.6" class="th" text-anchor="middle" >Woch</text>
<text x="2045.7" y="460" class="th" text-anchor="middle" >e 50</text>
<text transform="translate(2045.7,489.5) scale(1.06,1)" class="tv tvr" text-anchor="middle">1.878</text>
<text x="2085.8" y="444.6" class="th" text-anchor="middle" >Woch</text>
<text x="2085.8" y="460" class="th" text-anchor="middle" >e 51</text>
<text transform="translate(2085.8,489.5) scale(1.06,1)" class="tv tvr" text-anchor="middle">1.907</text>
<text x="2125.9" y="444.6" class="th" text-anchor="middle" >Woch</text>
<text x="2125.9" y="460" class="th" text-anchor="middle" >e 52</text>
<text transform="translate(2125.9,489.5) scale(1.06,1)" class="tv tvr" text-anchor="middle">1.705</text>
<text x="2166.0" y="444.6" class="th" text-anchor="middle" >Woch</text>
<text x="2166.0" y="460" class="th" text-anchor="middle" >e 53</text>
<text transform="translate(2166.0,489.5) scale(1.06,1)" class="tv tvr" text-anchor="middle">843</text>
<text x="2206.7" y="444.6" class="th" text-anchor="middle" >Woch</text>
<text x="2206.7" y="460" class="th" text-anchor="middle" >e 1</text>
<text transform="translate(2206.7,489.5) scale(1.06,1)" class="tv tvr" text-anchor="middle">1.057</text>
<text x="2246.7" y="444.6" class="th" text-anchor="middle" >Woch</text>
<text x="2246.7" y="460" class="th" text-anchor="middle" >e 2</text>
<text transform="translate(2246.7,489.5) scale(1.06,1)" class="tv tvr" text-anchor="middle">2.024</text>
<text x="2286.7" y="444.6" class="th" text-anchor="middle" >Woch</text>
<text x="2286.7" y="460" class="th" text-anchor="middle" >e 3</text>
<text transform="translate(2286.7,489.5) scale(1.06,1)" class="tv tvr" text-anchor="middle">2.091</text>
<text x="2326.7" y="444.6" class="th" text-anchor="middle" >Woch</text>
<text x="2326.7" y="460" class="th" text-anchor="middle" >e 4</text>
<text transform="translate(2326.7,489.5) scale(1.06,1)" class="tv tvr" text-anchor="middle">2.073</text>
<text x="2366.7" y="444.6" class="th" text-anchor="middle" >Woch</text>
<text x="2366.7" y="460" class="th" text-anchor="middle" >e 5</text>
<text transform="translate(2366.7,489.5) scale(1.06,1)" class="tv tvr" text-anchor="middle">1.971</text>
<text x="2406.7" y="444.6" class="th" text-anchor="middle" >Woch</text>
<text x="2406.7" y="460" class="th" text-anchor="middle" >e 6</text>
<text transform="translate(2406.7,489.5) scale(1.06,1)" class="tv tvr" text-anchor="middle">2.074</text>
<text x="2446.7" y="444.6" class="th" text-anchor="middle" >Woch</text>
<text x="2446.7" y="460" class="th" text-anchor="middle" >e 7</text>
<text transform="translate(2446.7,489.5) scale(1.06,1)" class="tv tvr" text-anchor="middle">2.008</text>
<text x="2486.7" y="444.6" class="th" text-anchor="middle" >Woch</text>
<text x="2486.7" y="460" class="th" text-anchor="middle" >e 8</text>
<text transform="translate(2486.7,489.5) scale(1.06,1)" class="tv tvr" text-anchor="middle">1.903</text>
<text x="2526.7" y="444.6" class="th" text-anchor="middle" >Woch</text>
<text x="2526.7" y="460" class="th" text-anchor="middle" >e 9</text>
<text transform="translate(2526.7,489.5) scale(1.06,1)" class="tv tvr" text-anchor="middle">1.083</text>
<line x1="60.5" y1="563" x2="60.5" y2="740" stroke="#cacaca" stroke-width="1"/>
<line x1="2186.5" y1="563" x2="2186.5" y2="740" stroke="#cacaca" stroke-width="1"/>
<line x1="2547.5" y1="563" x2="2547.5" y2="740" stroke="#cacaca" stroke-width="1"/>
<line x1="60.5" y1="582.5" x2="2548" y2="582.5" stroke="#e3e3e3" stroke-width="1"/>
<line x1="60.5" y1="613.5" x2="2547" y2="613.5" stroke="#f3f3f3" stroke-width="1"/>
<line x1="60.5" y1="653.5" x2="2547" y2="653.5" stroke="#f3f3f3" stroke-width="1"/>
<line x1="55.5" y1="613.5" x2="60.5" y2="613.5" stroke="#e4e4e4" stroke-width="1"/>
<line x1="55.5" y1="653.5" x2="60.5" y2="653.5" stroke="#e4e4e4" stroke-width="1"/>
<text x="1123.5" y="578" class="yr" text-anchor="middle" >2025</text>
<text x="2367.25" y="578" class="yr" text-anchor="middle" >2026</text>
<rect x="65.50" y="654.00" width="30.41" height="7.20" fill="#e64445"/>
<rect x="65.50" y="660.75" width="30.41" height="1.20" fill="#72b8c6"/>
<rect x="65.50" y="661.50" width="30.41" height="8.82" fill="#2b5784"/>
<rect x="65.50" y="669.88" width="30.41" height="2.08" fill="#f7a541"/>
<rect x="65.50" y="671.50" width="30.41" height="5.70" fill="#146c36"/>
<rect x="65.50" y="676.75" width="30.41" height="9.32" fill="#439fb9"/>
<rect x="65.50" y="685.62" width="30.41" height="2.33" fill="#c0603a"/>
<rect x="65.50" y="687.50" width="30.41" height="2.20" fill="#808e96"/>
<rect x="65.50" y="689.25" width="30.41" height="3.75" fill="#82b45a"/>
<rect x="105.61" y="621.88" width="30.41" height="16.57" fill="#e64445"/>
<rect x="105.61" y="638.00" width="30.41" height="2.20" fill="#72b8c6"/>
<rect x="105.61" y="639.75" width="30.41" height="17.57" fill="#2b5784"/>
<rect x="105.61" y="656.88" width="30.41" height="5.33" fill="#f7a541"/>
<rect x="105.61" y="661.75" width="30.41" height="7.20" fill="#146c36"/>
<rect x="105.61" y="668.50" width="30.41" height="13.70" fill="#439fb9"/>
<rect x="105.61" y="681.75" width="30.41" height="4.20" fill="#c0603a"/>
<rect x="105.61" y="685.50" width="30.41" height="4.20" fill="#808e96"/>
<rect x="105.61" y="689.25" width="30.41" height="3.75" fill="#82b45a"/>
<rect x="145.73" y="627.75" width="30.41" height="13.57" fill="#e64445"/>
<rect x="145.73" y="640.88" width="30.41" height="2.20" fill="#72b8c6"/>
<rect x="145.73" y="642.62" width="30.41" height="23.32" fill="#2b5784"/>
<rect x="145.73" y="665.50" width="30.41" height="1.70" fill="#f7a541"/>
<rect x="145.73" y="666.75" width="30.41" height="7.58" fill="#146c36"/>
<rect x="145.73" y="673.88" width="30.41" height="14.95" fill="#439fb9"/>
<rect x="145.73" y="688.38" width="30.41" height="2.33" fill="#c0603a"/>
<rect x="145.73" y="690.25" width="30.41" height="1.45" fill="#808e96"/>
<rect x="145.73" y="691.25" width="30.41" height="1.75" fill="#82b45a"/>
<rect x="185.84" y="607.75" width="30.41" height="12.70" fill="#e64445"/>
<rect x="185.84" y="620.00" width="30.41" height="2.20" fill="#72b8c6"/>
<rect x="185.84" y="621.75" width="30.41" height="28.07" fill="#2b5784"/>
<rect x="185.84" y="649.38" width="30.41" height="2.70" fill="#f7a541"/>
<rect x="185.84" y="651.62" width="30.41" height="12.57" fill="#146c36"/>
<rect x="185.84" y="663.75" width="30.41" height="25.07" fill="#439fb9"/>
<rect x="185.84" y="688.38" width="30.41" height="2.33" fill="#c0603a"/>
<rect x="185.84" y="690.25" width="30.41" height="2.33" fill="#808e96"/>
<rect x="185.84" y="692.12" width="30.41" height="0.88" fill="#82b45a"/>
<rect x="225.95" y="587.75" width="30.41" height="20.57" fill="#e64445"/>
<rect x="225.95" y="607.88" width="30.41" height="2.20" fill="#72b8c6"/>
<rect x="225.95" y="609.62" width="30.41" height="42.95" fill="#2b5784"/>
<rect x="225.95" y="652.12" width="30.41" height="3.58" fill="#f7a541"/>
<rect x="225.95" y="655.25" width="30.41" height="8.95" fill="#146c36"/>
<rect x="225.95" y="663.75" width="30.41" height="22.20" fill="#439fb9"/>
<rect x="225.95" y="685.50" width="30.41" height="1.45" fill="#c0603a"/>
<rect x="225.95" y="686.50" width="30.41" height="6.50" fill="#82b45a"/>
<rect x="266.07" y="600.00" width="30.41" height="9.20" fill="#e64445"/>
<rect x="266.07" y="608.75" width="30.41" height="6.33" fill="#72b8c6"/>
<rect x="266.07" y="614.62" width="30.41" height="42.70" fill="#2b5784"/>
<rect x="266.07" y="656.88" width="30.41" height="3.45" fill="#f7a541"/>
<rect x="266.07" y="659.88" width="30.41" height="6.20" fill="#146c36"/>
<rect x="266.07" y="665.62" width="30.41" height="20.45" fill="#439fb9"/>
<rect x="266.07" y="685.62" width="30.41" height="3.20" fill="#c0603a"/>
<rect x="266.07" y="688.38" width="30.41" height="1.32" fill="#808e96"/>
<rect x="266.07" y="689.25" width="30.41" height="3.75" fill="#82b45a"/>
<rect x="306.18" y="608.75" width="30.41" height="8.95" fill="#e64445"/>
<rect x="306.18" y="617.25" width="30.41" height="3.08" fill="#72b8c6"/>
<rect x="306.18" y="619.88" width="30.41" height="37.45" fill="#2b5784"/>
<rect x="306.18" y="656.88" width="30.41" height="3.45" fill="#f7a541"/>
<rect x="306.18" y="659.88" width="30.41" height="11.95" fill="#146c36"/>
<rect x="306.18" y="671.38" width="30.41" height="16.57" fill="#439fb9"/>
<rect x="306.18" y="687.50" width="30.41" height="2.20" fill="#808e96"/>
<rect x="306.18" y="689.25" width="30.41" height="3.75" fill="#82b45a"/>
<rect x="346.29" y="606.75" width="30.41" height="9.95" fill="#e64445"/>
<rect x="346.29" y="616.25" width="30.41" height="9.95" fill="#72b8c6"/>
<rect x="346.29" y="625.75" width="30.41" height="27.82" fill="#2b5784"/>
<rect x="346.29" y="653.12" width="30.41" height="4.33" fill="#f7a541"/>
<rect x="346.29" y="657.00" width="30.41" height="14.82" fill="#146c36"/>
<rect x="346.29" y="671.38" width="30.41" height="14.57" fill="#439fb9"/>
<rect x="346.29" y="685.50" width="30.41" height="1.45" fill="#c0603a"/>
<rect x="346.29" y="686.50" width="30.41" height="1.20" fill="#808e96"/>
<rect x="346.29" y="687.25" width="30.41" height="5.75" fill="#82b45a"/>
<rect x="386.41" y="589.62" width="30.41" height="9.95" fill="#e64445"/>
<rect x="386.41" y="599.12" width="30.41" height="5.08" fill="#72b8c6"/>
<rect x="386.41" y="603.75" width="30.41" height="45.33" fill="#2b5784"/>
<rect x="386.41" y="648.62" width="30.41" height="4.33" fill="#f7a541"/>
<rect x="386.41" y="652.50" width="30.41" height="9.70" fill="#146c36"/>
<rect x="386.41" y="661.75" width="30.41" height="19.45" fill="#439fb9"/>
<rect x="386.41" y="680.75" width="30.41" height="3.20" fill="#808e96"/>
<rect x="386.41" y="683.50" width="30.41" height="9.50" fill="#82b45a"/>
<rect x="426.52" y="597.25" width="30.41" height="3.45" fill="#e64445"/>
<rect x="426.52" y="600.25" width="30.41" height="2.95" fill="#72b8c6"/>
<rect x="426.52" y="602.75" width="30.41" height="47.20" fill="#2b5784"/>
<rect x="426.52" y="649.50" width="30.41" height="4.33" fill="#f7a541"/>
<rect x="426.52" y="653.38" width="30.41" height="12.70" fill="#146c36"/>
<rect x="426.52" y="665.62" width="30.41" height="21.32" fill="#439fb9"/>
<rect x="426.52" y="686.50" width="30.41" height="1.70" fill="#c0603a"/>
<rect x="426.52" y="687.75" width="30.41" height="5.25" fill="#82b45a"/>
<rect x="466.63" y="587.75" width="30.41" height="10.20" fill="#e64445"/>
<rect x="466.63" y="597.50" width="30.41" height="6.70" fill="#72b8c6"/>
<rect x="466.63" y="603.75" width="30.41" height="31.95" fill="#2b5784"/>
<rect x="466.63" y="635.25" width="30.41" height="3.33" fill="#f7a541"/>
<rect x="466.63" y="638.12" width="30.41" height="13.57" fill="#146c36"/>
<rect x="466.63" y="651.25" width="30.41" height="31.82" fill="#439fb9"/>
<rect x="466.63" y="682.62" width="30.41" height="3.45" fill="#c0603a"/>
<rect x="466.63" y="685.62" width="30.41" height="4.08" fill="#808e96"/>
<rect x="466.63" y="689.25" width="30.41" height="3.75" fill="#82b45a"/>
<rect x="506.75" y="605.75" width="30.41" height="3.45" fill="#e64445"/>
<rect x="506.75" y="608.75" width="30.41" height="7.20" fill="#72b8c6"/>
<rect x="506.75" y="615.50" width="30.41" height="37.20" fill="#2b5784"/>
<rect x="506.75" y="652.25" width="30.41" height="3.33" fill="#f7a541"/>
<rect x="506.75" y="655.12" width="30.41" height="11.95" fill="#146c36"/>
<rect x="506.75" y="666.62" width="30.41" height="21.32" fill="#439fb9"/>
<rect x="506.75" y="687.50" width="30.41" height="2.95" fill="#808e96"/>
<rect x="506.75" y="690.00" width="30.41" height="3.00" fill="#82b45a"/>
<rect x="546.86" y="619.00" width="30.41" height="4.20" fill="#e64445"/>
<rect x="546.86" y="622.75" width="30.41" height="1.07" fill="#72b8c6"/>
<rect x="546.86" y="623.38" width="30.41" height="37.83" fill="#2b5784"/>
<rect x="546.86" y="660.75" width="30.41" height="1.45" fill="#f7a541"/>
<rect x="546.86" y="661.75" width="30.41" height="13.57" fill="#146c36"/>
<rect x="546.86" y="674.88" width="30.41" height="13.07" fill="#439fb9"/>
<rect x="546.86" y="687.50" width="30.41" height="2.95" fill="#808e96"/>
<rect x="546.86" y="690.00" width="30.41" height="3.00" fill="#82b45a"/>
<rect x="586.97" y="637.75" width="30.41" height="1.70" fill="#e64445"/>
<rect x="586.97" y="639.00" width="30.41" height="4.20" fill="#72b8c6"/>
<rect x="586.97" y="642.75" width="30.41" height="25.20" fill="#2b5784"/>
<rect x="586.97" y="667.50" width="30.41" height="1.57" fill="#f7a541"/>
<rect x="586.97" y="668.62" width="30.41" height="13.57" fill="#146c36"/>
<rect x="586.97" y="681.75" width="30.41" height="7.08" fill="#439fb9"/>
<rect x="586.97" y="688.38" width="30.41" height="1.82" fill="#c0603a"/>
<rect x="586.97" y="689.75" width="30.41" height="3.25" fill="#82b45a"/>
<rect x="627.08" y="636.00" width="30.41" height="4.45" fill="#e64445"/>
<rect x="627.08" y="640.00" width="30.41" height="27.07" fill="#2b5784"/>
<rect x="627.08" y="666.62" width="30.41" height="1.57" fill="#f7a541"/>
<rect x="627.08" y="667.75" width="30.41" height="10.45" fill="#146c36"/>
<rect x="627.08" y="677.75" width="30.41" height="8.20" fill="#439fb9"/>
<rect x="627.08" y="685.50" width="30.41" height="1.70" fill="#c0603a"/>
<rect x="627.08" y="686.75" width="30.41" height="3.70" fill="#808e96"/>
<rect x="627.08" y="690.00" width="30.41" height="3.00" fill="#82b45a"/>
<rect x="667.20" y="647.62" width="30.41" height="1.32" fill="#e64445"/>
<rect x="667.20" y="648.50" width="30.41" height="21.45" fill="#2b5784"/>
<rect x="667.20" y="669.50" width="30.41" height="2.20" fill="#f7a541"/>
<rect x="667.20" y="671.25" width="30.41" height="11.70" fill="#146c36"/>
<rect x="667.20" y="682.50" width="30.41" height="6.45" fill="#439fb9"/>
<rect x="667.20" y="688.50" width="30.41" height="2.20" fill="#c0603a"/>
<rect x="667.20" y="690.25" width="30.41" height="1.45" fill="#808e96"/>
<rect x="667.20" y="691.25" width="30.41" height="1.75" fill="#82b45a"/>
<rect x="707.31" y="656.00" width="30.41" height="1.45" fill="#e64445"/>
<rect x="707.31" y="657.00" width="30.41" height="11.95" fill="#2b5784"/>
<rect x="707.31" y="668.50" width="30.41" height="12.70" fill="#146c36"/>
<rect x="707.31" y="680.75" width="30.41" height="8.07" fill="#439fb9"/>
<rect x="707.31" y="688.38" width="30.41" height="3.33" fill="#c0603a"/>
<rect x="707.31" y="691.25" width="30.41" height="1.32" fill="#808e96"/>
<rect x="707.31" y="692.12" width="30.41" height="0.88" fill="#82b45a"/>
<rect x="747.42" y="671.25" width="30.41" height="0.95" fill="#72b8c6"/>
<rect x="747.42" y="671.75" width="30.41" height="7.45" fill="#2b5784"/>
<rect x="747.42" y="678.75" width="30.41" height="1.45" fill="#f7a541"/>
<rect x="747.42" y="679.75" width="30.41" height="7.20" fill="#146c36"/>
<rect x="747.42" y="686.50" width="30.41" height="3.95" fill="#439fb9"/>
<rect x="747.42" y="690.00" width="30.41" height="1.70" fill="#c0603a"/>
<rect x="747.42" y="691.25" width="30.41" height="1.32" fill="#808e96"/>
<rect x="747.42" y="692.12" width="30.41" height="0.88" fill="#82b45a"/>
<rect x="787.54" y="674.12" width="30.41" height="0.95" fill="#72b8c6"/>
<rect x="787.54" y="674.62" width="30.41" height="6.58" fill="#2b5784"/>
<rect x="787.54" y="680.75" width="30.41" height="1.45" fill="#f7a541"/>
<rect x="787.54" y="681.75" width="30.41" height="6.20" fill="#146c36"/>
<rect x="787.54" y="687.50" width="30.41" height="2.20" fill="#439fb9"/>
<rect x="787.54" y="689.25" width="30.41" height="3.33" fill="#c0603a"/>
<rect x="787.54" y="692.12" width="30.41" height="0.88" fill="#808e96"/>
<rect x="827.65" y="657.00" width="30.41" height="0.82" fill="#72b8c6"/>
<rect x="827.65" y="657.38" width="30.41" height="7.70" fill="#2b5784"/>
<rect x="827.65" y="664.62" width="30.41" height="6.33" fill="#f7a541"/>
<rect x="827.65" y="670.50" width="30.41" height="10.70" fill="#146c36"/>
<rect x="827.65" y="680.75" width="30.41" height="5.20" fill="#439fb9"/>
<rect x="827.65" y="685.50" width="30.41" height="4.95" fill="#c0603a"/>
<rect x="827.65" y="690.00" width="30.41" height="1.45" fill="#808e96"/>
<rect x="827.65" y="691.00" width="30.41" height="2.00" fill="#82b45a"/>
<rect x="867.76" y="669.88" width="30.41" height="0.82" fill="#72b8c6"/>
<rect x="867.76" y="670.25" width="30.41" height="5.95" fill="#2b5784"/>
<rect x="867.76" y="675.75" width="30.41" height="1.45" fill="#f7a541"/>
<rect x="867.76" y="676.75" width="30.41" height="10.20" fill="#146c36"/>
<rect x="867.76" y="686.50" width="30.41" height="4.20" fill="#c0603a"/>
<rect x="867.76" y="690.25" width="30.41" height="1.95" fill="#808e96"/>
<rect x="867.76" y="691.75" width="30.41" height="1.25" fill="#82b45a"/>
<rect x="907.88" y="675.75" width="30.41" height="1.45" fill="#2b5784"/>
<rect x="907.88" y="676.75" width="30.41" height="1.45" fill="#f7a541"/>
<rect x="907.88" y="677.75" width="30.41" height="12.70" fill="#146c36"/>
<rect x="907.88" y="690.00" width="30.41" height="1.45" fill="#439fb9"/>
<rect x="907.88" y="691.00" width="30.41" height="1.70" fill="#c0603a"/>
<rect x="907.88" y="692.25" width="30.41" height="0.75" fill="#808e96"/>
<rect x="947.99" y="673.00" width="30.41" height="2.33" fill="#f7a541"/>
<rect x="947.99" y="674.88" width="30.41" height="12.07" fill="#146c36"/>
<rect x="947.99" y="686.50" width="30.41" height="4.20" fill="#439fb9"/>
<rect x="947.99" y="690.25" width="30.41" height="2.75" fill="#c0603a"/>
<rect x="988.10" y="671.25" width="30.41" height="2.20" fill="#2b5784"/>
<rect x="988.10" y="673.00" width="30.41" height="3.33" fill="#f7a541"/>
<rect x="988.10" y="675.88" width="30.41" height="7.08" fill="#146c36"/>
<rect x="988.10" y="682.50" width="30.41" height="4.45" fill="#439fb9"/>
<rect x="988.10" y="686.50" width="30.41" height="5.70" fill="#c0603a"/>
<rect x="988.10" y="691.75" width="30.41" height="1.25" fill="#808e96"/>
<rect x="1028.22" y="668.50" width="30.41" height="1.20" fill="#f7a541"/>
<rect x="1028.22" y="669.25" width="30.41" height="17.70" fill="#146c36"/>
<rect x="1028.22" y="686.50" width="30.41" height="3.20" fill="#439fb9"/>
<rect x="1028.22" y="689.25" width="30.41" height="3.45" fill="#c0603a"/>
<rect x="1028.22" y="692.25" width="30.41" height="0.75" fill="#808e96"/>
<rect x="1068.33" y="671.00" width="30.41" height="1.70" fill="#2b5784"/>
<rect x="1068.33" y="672.25" width="30.41" height="2.20" fill="#f7a541"/>
<rect x="1068.33" y="674.00" width="30.41" height="9.07" fill="#146c36"/>
<rect x="1068.33" y="682.62" width="30.41" height="3.33" fill="#439fb9"/>
<rect x="1068.33" y="685.50" width="30.41" height="7.50" fill="#c0603a"/>
<rect x="1108.44" y="686.50" width="30.41" height="3.20" fill="#146c36"/>
<rect x="1108.44" y="689.25" width="30.41" height="3.45" fill="#c0603a"/>
<rect x="1108.44" y="692.25" width="30.41" height="0.75" fill="#82b45a"/>
<rect x="1148.56" y="683.50" width="30.41" height="6.20" fill="#146c36"/>
<rect x="1148.56" y="689.25" width="30.41" height="1.70" fill="#439fb9"/>
<rect x="1148.56" y="690.50" width="30.41" height="2.50" fill="#c0603a"/>
<rect x="1188.67" y="675.88" width="30.41" height="1.07" fill="#2b5784"/>
<rect x="1188.67" y="676.50" width="30.41" height="13.20" fill="#146c36"/>
<rect x="1188.67" y="689.25" width="30.41" height="1.70" fill="#439fb9"/>
<rect x="1188.67" y="690.50" width="30.41" height="2.50" fill="#c0603a"/>
<rect x="1228.78" y="663.75" width="30.41" height="14.45" fill="#146c36"/>
<rect x="1228.78" y="677.75" width="30.41" height="6.20" fill="#439fb9"/>
<rect x="1228.78" y="683.50" width="30.41" height="9.50" fill="#c0603a"/>
<rect x="1268.90" y="675.88" width="30.41" height="8.07" fill="#146c36"/>
<rect x="1268.90" y="683.50" width="30.41" height="4.45" fill="#439fb9"/>
<rect x="1268.90" y="687.50" width="30.41" height="5.50" fill="#c0603a"/>
<rect x="1309.01" y="676.75" width="30.41" height="2.45" fill="#f7a541"/>
<rect x="1309.01" y="678.75" width="30.41" height="12.95" fill="#146c36"/>
<rect x="1309.01" y="691.25" width="30.41" height="1.75" fill="#c0603a"/>
<rect x="1349.12" y="677.75" width="30.41" height="5.33" fill="#146c36"/>
<rect x="1349.12" y="682.62" width="30.41" height="1.32" fill="#439fb9"/>
<rect x="1349.12" y="683.50" width="30.41" height="9.50" fill="#c0603a"/>
<rect x="1389.24" y="680.75" width="30.41" height="8.95" fill="#146c36"/>
<rect x="1389.24" y="689.25" width="30.41" height="3.20" fill="#439fb9"/>
<rect x="1389.24" y="692.00" width="30.41" height="1.00" fill="#c0603a"/>
<rect x="1429.35" y="675.88" width="30.41" height="2.33" fill="#f7a541"/>
<rect x="1429.35" y="677.75" width="30.41" height="11.20" fill="#146c36"/>
<rect x="1429.35" y="688.50" width="30.41" height="1.20" fill="#439fb9"/>
<rect x="1429.35" y="689.25" width="30.41" height="2.45" fill="#c0603a"/>
<rect x="1429.35" y="691.25" width="30.41" height="1.75" fill="#808e96"/>
<rect x="1469.46" y="680.75" width="30.41" height="2.33" fill="#f7a541"/>
<rect x="1469.46" y="682.62" width="30.41" height="5.33" fill="#146c36"/>
<rect x="1469.46" y="687.50" width="30.41" height="5.50" fill="#439fb9"/>
<rect x="1509.58" y="685.62" width="30.41" height="1.32" fill="#f7a541"/>
<rect x="1509.58" y="686.50" width="30.41" height="4.95" fill="#146c36"/>
<rect x="1509.58" y="691.00" width="30.41" height="2.00" fill="#c0603a"/>
<rect x="1549.69" y="672.00" width="30.41" height="3.33" fill="#f7a541"/>
<rect x="1549.69" y="674.88" width="30.41" height="14.57" fill="#146c36"/>
<rect x="1549.69" y="689.00" width="30.41" height="1.70" fill="#439fb9"/>
<rect x="1549.69" y="690.25" width="30.41" height="2.75" fill="#c0603a"/>
<rect x="1589.80" y="680.75" width="30.41" height="1.45" fill="#f7a541"/>
<rect x="1589.80" y="681.75" width="30.41" height="8.70" fill="#146c36"/>
<rect x="1589.80" y="690.00" width="30.41" height="1.70" fill="#439fb9"/>
<rect x="1589.80" y="691.25" width="30.41" height="1.75" fill="#c0603a"/>
<rect x="1629.92" y="673.00" width="30.41" height="3.33" fill="#f7a541"/>
<rect x="1629.92" y="675.88" width="30.41" height="12.07" fill="#146c36"/>
<rect x="1629.92" y="687.50" width="30.41" height="3.20" fill="#439fb9"/>
<rect x="1629.92" y="690.25" width="30.41" height="2.75" fill="#c0603a"/>
<rect x="1670.03" y="672.00" width="30.41" height="2.45" fill="#2b5784"/>
<rect x="1670.03" y="674.00" width="30.41" height="2.33" fill="#f7a541"/>
<rect x="1670.03" y="675.88" width="30.41" height="13.82" fill="#146c36"/>
<rect x="1670.03" y="689.25" width="30.41" height="2.45" fill="#439fb9"/>
<rect x="1670.03" y="691.25" width="30.41" height="1.75" fill="#c0603a"/>
<rect x="1710.14" y="676.75" width="30.41" height="2.45" fill="#e64445"/>
<rect x="1710.14" y="678.75" width="30.41" height="1.45" fill="#2b5784"/>
<rect x="1710.14" y="679.75" width="30.41" height="1.45" fill="#f7a541"/>
<rect x="1710.14" y="680.75" width="30.41" height="8.95" fill="#146c36"/>
<rect x="1710.14" y="689.25" width="30.41" height="2.20" fill="#439fb9"/>
<rect x="1710.14" y="691.00" width="30.41" height="2.00" fill="#c0603a"/>
<rect x="1750.25" y="666.50" width="30.41" height="1.45" fill="#e64445"/>
<rect x="1750.25" y="667.50" width="30.41" height="1.45" fill="#f7a541"/>
<rect x="1750.25" y="668.50" width="30.41" height="14.57" fill="#146c36"/>
<rect x="1750.25" y="682.62" width="30.41" height="5.33" fill="#439fb9"/>
<rect x="1750.25" y="687.50" width="30.41" height="4.20" fill="#c0603a"/>
<rect x="1750.25" y="691.25" width="30.41" height="1.75" fill="#82b45a"/>
<rect x="1790.37" y="681.75" width="30.41" height="1.32" fill="#e64445"/>
<rect x="1790.37" y="682.62" width="30.41" height="5.33" fill="#146c36"/>
<rect x="1790.37" y="687.50" width="30.41" height="3.95" fill="#439fb9"/>
<rect x="1790.37" y="691.00" width="30.41" height="2.00" fill="#c0603a"/>
<rect x="1830.48" y="676.75" width="30.41" height="1.45" fill="#e64445"/>
<rect x="1830.48" y="677.75" width="30.41" height="2.45" fill="#2b5784"/>
<rect x="1830.48" y="679.75" width="30.41" height="9.95" fill="#146c36"/>
<rect x="1830.48" y="689.25" width="30.41" height="3.33" fill="#439fb9"/>
<rect x="1830.48" y="692.12" width="30.41" height="0.88" fill="#c0603a"/>
<rect x="1870.59" y="676.75" width="30.41" height="1.45" fill="#e64445"/>
<rect x="1870.59" y="677.75" width="30.41" height="3.45" fill="#2b5784"/>
<rect x="1870.59" y="680.75" width="30.41" height="8.20" fill="#146c36"/>
<rect x="1870.59" y="688.50" width="30.41" height="2.20" fill="#439fb9"/>
<rect x="1870.59" y="690.25" width="30.41" height="2.75" fill="#c0603a"/>
<rect x="1910.71" y="677.75" width="30.41" height="2.45" fill="#e64445"/>
<rect x="1910.71" y="679.75" width="30.41" height="1.45" fill="#72b8c6"/>
<rect x="1910.71" y="680.75" width="30.41" height="4.33" fill="#2b5784"/>
<rect x="1910.71" y="684.62" width="30.41" height="1.57" fill="#f7a541"/>
<rect x="1910.71" y="685.75" width="30.41" height="7.25" fill="#146c36"/>
<rect x="1950.82" y="671.25" width="30.41" height="3.20" fill="#e64445"/>
<rect x="1950.82" y="674.00" width="30.41" height="4.20" fill="#2b5784"/>
<rect x="1950.82" y="677.75" width="30.41" height="13.95" fill="#146c36"/>
<rect x="1950.82" y="691.25" width="30.41" height="1.75" fill="#c0603a"/>
<rect x="1990.93" y="677.75" width="30.41" height="2.45" fill="#e64445"/>
<rect x="1990.93" y="679.75" width="30.41" height="5.20" fill="#2b5784"/>
<rect x="1990.93" y="684.50" width="30.41" height="1.45" fill="#978a4e"/>
<rect x="1990.93" y="685.50" width="30.41" height="5.95" fill="#146c36"/>
<rect x="1990.93" y="691.00" width="30.41" height="2.00" fill="#9c7f4a"/>
<rect x="2031.05" y="673.00" width="30.41" height="1.45" fill="#e64445"/>
<rect x="2031.05" y="674.00" width="30.41" height="16.45" fill="#2b5784"/>
<rect x="2031.05" y="690.00" width="30.41" height="3.00" fill="#f7a541"/>
<rect x="2071.16" y="680.75" width="30.41" height="1.20" fill="#e64445"/>
<rect x="2071.16" y="681.50" width="30.41" height="8.95" fill="#2b5784"/>
<rect x="2071.16" y="690.00" width="30.41" height="3.00" fill="#8e9a55"/>
<rect x="2111.27" y="685.50" width="30.41" height="5.95" fill="#2b5784"/>
<rect x="2111.27" y="691.00" width="30.41" height="2.00" fill="#146c36"/>
<rect x="2151.39" y="682.62" width="30.41" height="6.20" fill="#2b5784"/>
<rect x="2151.39" y="688.38" width="30.41" height="3.08" fill="#146c36"/>
<rect x="2151.39" y="691.00" width="30.41" height="2.00" fill="#9c7f4a"/>
<rect x="2191.50" y="687.50" width="30.42" height="1.45" fill="#e64445"/>
<rect x="2191.50" y="688.50" width="30.42" height="4.50" fill="#2b5784"/>
<rect x="2231.62" y="681.75" width="30.42" height="2.20" fill="#e64445"/>
<rect x="2231.62" y="683.50" width="30.42" height="9.20" fill="#2b5784"/>
<rect x="2231.62" y="692.25" width="30.42" height="0.75" fill="#146c36"/>
<rect x="2271.74" y="668.50" width="30.42" height="2.20" fill="#e64445"/>
<rect x="2271.74" y="670.25" width="30.42" height="19.20" fill="#2b5784"/>
<rect x="2271.74" y="689.00" width="30.42" height="2.45" fill="#978a4e"/>
<rect x="2271.74" y="691.00" width="30.42" height="2.00" fill="#146c36"/>
<rect x="2311.87" y="666.50" width="30.42" height="23.70" fill="#2b5784"/>
<rect x="2311.87" y="689.75" width="30.42" height="1.70" fill="#9c7f4a"/>
<rect x="2311.87" y="691.00" width="30.42" height="2.00" fill="#82b45a"/>
<rect x="2351.99" y="664.62" width="30.42" height="1.32" fill="#e64445"/>
<rect x="2351.99" y="665.50" width="30.42" height="25.70" fill="#2b5784"/>
<rect x="2351.99" y="690.75" width="30.42" height="2.25" fill="#978a4e"/>
<rect x="2392.11" y="657.00" width="30.42" height="2.20" fill="#e64445"/>
<rect x="2392.11" y="658.75" width="30.42" height="32.70" fill="#2b5784"/>
<rect x="2392.11" y="691.00" width="30.42" height="2.00" fill="#c9b060"/>
<rect x="2432.23" y="641.75" width="30.42" height="1.45" fill="#e64445"/>
<rect x="2432.23" y="642.75" width="30.42" height="50.25" fill="#2b5784"/>
<rect x="2472.36" y="656.00" width="30.42" height="37.00" fill="#2b5784"/>
<rect x="2512.48" y="669.25" width="30.42" height="2.45" fill="#e64445"/>
<rect x="2512.48" y="671.25" width="30.42" height="18.95" fill="#2b5784"/>
<rect x="2512.48" y="689.75" width="30.42" height="1.70" fill="#9c7f4a"/>
<rect x="2512.48" y="691.00" width="30.42" height="2.00" fill="#82b45a"/>
<line x1="55.5" y1="693.5" x2="2548" y2="693.5" stroke="#d4d4d4" stroke-width="1"/>
<line x1="100.6" y1="694" x2="100.6" y2="698" stroke="#f3f3f3" stroke-width="1"/>
<line x1="140.7" y1="694" x2="140.7" y2="698" stroke="#f3f3f3" stroke-width="1"/>
<line x1="180.8" y1="694" x2="180.8" y2="698" stroke="#f3f3f3" stroke-width="1"/>
<line x1="221.0" y1="694" x2="221.0" y2="698" stroke="#f3f3f3" stroke-width="1"/>
<line x1="261.1" y1="694" x2="261.1" y2="698" stroke="#f3f3f3" stroke-width="1"/>
<line x1="301.2" y1="694" x2="301.2" y2="698" stroke="#f3f3f3" stroke-width="1"/>
<line x1="341.3" y1="694" x2="341.3" y2="698" stroke="#f3f3f3" stroke-width="1"/>
<line x1="381.4" y1="694" x2="381.4" y2="698" stroke="#f3f3f3" stroke-width="1"/>
<line x1="421.5" y1="694" x2="421.5" y2="698" stroke="#f3f3f3" stroke-width="1"/>
<line x1="461.6" y1="694" x2="461.6" y2="698" stroke="#f3f3f3" stroke-width="1"/>
<line x1="501.7" y1="694" x2="501.7" y2="698" stroke="#f3f3f3" stroke-width="1"/>
<line x1="541.9" y1="694" x2="541.9" y2="698" stroke="#f3f3f3" stroke-width="1"/>
<line x1="582.0" y1="694" x2="582.0" y2="698" stroke="#f3f3f3" stroke-width="1"/>
<line x1="622.1" y1="694" x2="622.1" y2="698" stroke="#f3f3f3" stroke-width="1"/>
<line x1="662.2" y1="694" x2="662.2" y2="698" stroke="#f3f3f3" stroke-width="1"/>
<line x1="702.3" y1="694" x2="702.3" y2="698" stroke="#f3f3f3" stroke-width="1"/>
<line x1="742.4" y1="694" x2="742.4" y2="698" stroke="#f3f3f3" stroke-width="1"/>
<line x1="782.5" y1="694" x2="782.5" y2="698" stroke="#f3f3f3" stroke-width="1"/>
<line x1="822.7" y1="694" x2="822.7" y2="698" stroke="#f3f3f3" stroke-width="1"/>
<line x1="862.8" y1="694" x2="862.8" y2="698" stroke="#f3f3f3" stroke-width="1"/>
<line x1="902.9" y1="694" x2="902.9" y2="698" stroke="#f3f3f3" stroke-width="1"/>
<line x1="943.0" y1="694" x2="943.0" y2="698" stroke="#f3f3f3" stroke-width="1"/>
<line x1="983.1" y1="694" x2="983.1" y2="698" stroke="#f3f3f3" stroke-width="1"/>
<line x1="1023.2" y1="694" x2="1023.2" y2="698" stroke="#f3f3f3" stroke-width="1"/>
<line x1="1063.3" y1="694" x2="1063.3" y2="698" stroke="#f3f3f3" stroke-width="1"/>
<line x1="1103.4" y1="694" x2="1103.4" y2="698" stroke="#f3f3f3" stroke-width="1"/>
<line x1="1143.6" y1="694" x2="1143.6" y2="698" stroke="#f3f3f3" stroke-width="1"/>
<line x1="1183.7" y1="694" x2="1183.7" y2="698" stroke="#f3f3f3" stroke-width="1"/>
<line x1="1223.8" y1="694" x2="1223.8" y2="698" stroke="#f3f3f3" stroke-width="1"/>
<line x1="1263.9" y1="694" x2="1263.9" y2="698" stroke="#f3f3f3" stroke-width="1"/>
<line x1="1304.0" y1="694" x2="1304.0" y2="698" stroke="#f3f3f3" stroke-width="1"/>
<line x1="1344.1" y1="694" x2="1344.1" y2="698" stroke="#f3f3f3" stroke-width="1"/>
<line x1="1384.2" y1="694" x2="1384.2" y2="698" stroke="#f3f3f3" stroke-width="1"/>
<line x1="1424.3" y1="694" x2="1424.3" y2="698" stroke="#f3f3f3" stroke-width="1"/>
<line x1="1464.5" y1="694" x2="1464.5" y2="698" stroke="#f3f3f3" stroke-width="1"/>
<line x1="1504.6" y1="694" x2="1504.6" y2="698" stroke="#f3f3f3" stroke-width="1"/>
<line x1="1544.7" y1="694" x2="1544.7" y2="698" stroke="#f3f3f3" stroke-width="1"/>
<line x1="1584.8" y1="694" x2="1584.8" y2="698" stroke="#f3f3f3" stroke-width="1"/>
<line x1="1624.9" y1="694" x2="1624.9" y2="698" stroke="#f3f3f3" stroke-width="1"/>
<line x1="1665.0" y1="694" x2="1665.0" y2="698" stroke="#f3f3f3" stroke-width="1"/>
<line x1="1705.1" y1="694" x2="1705.1" y2="698" stroke="#f3f3f3" stroke-width="1"/>
<line x1="1745.3" y1="694" x2="1745.3" y2="698" stroke="#f3f3f3" stroke-width="1"/>
<line x1="1785.4" y1="694" x2="1785.4" y2="698" stroke="#f3f3f3" stroke-width="1"/>
<line x1="1825.5" y1="694" x2="1825.5" y2="698" stroke="#f3f3f3" stroke-width="1"/>
<line x1="1865.6" y1="694" x2="1865.6" y2="698" stroke="#f3f3f3" stroke-width="1"/>
<line x1="1905.7" y1="694" x2="1905.7" y2="698" stroke="#f3f3f3" stroke-width="1"/>
<line x1="1945.8" y1="694" x2="1945.8" y2="698" stroke="#f3f3f3" stroke-width="1"/>
<line x1="1985.9" y1="694" x2="1985.9" y2="698" stroke="#f3f3f3" stroke-width="1"/>
<line x1="2026.0" y1="694" x2="2026.0" y2="698" stroke="#f3f3f3" stroke-width="1"/>
<line x1="2066.2" y1="694" x2="2066.2" y2="698" stroke="#f3f3f3" stroke-width="1"/>
<line x1="2106.3" y1="694" x2="2106.3" y2="698" stroke="#f3f3f3" stroke-width="1"/>
<line x1="2146.4" y1="694" x2="2146.4" y2="698" stroke="#f3f3f3" stroke-width="1"/>
<line x1="2226.6" y1="694" x2="2226.6" y2="698" stroke="#f3f3f3" stroke-width="1"/>
<line x1="2266.7" y1="694" x2="2266.7" y2="698" stroke="#f3f3f3" stroke-width="1"/>
<line x1="2306.9" y1="694" x2="2306.9" y2="698" stroke="#f3f3f3" stroke-width="1"/>
<line x1="2347.0" y1="694" x2="2347.0" y2="698" stroke="#f3f3f3" stroke-width="1"/>
<line x1="2387.1" y1="694" x2="2387.1" y2="698" stroke="#f3f3f3" stroke-width="1"/>
<line x1="2427.2" y1="694" x2="2427.2" y2="698" stroke="#f3f3f3" stroke-width="1"/>
<line x1="2467.4" y1="694" x2="2467.4" y2="698" stroke="#f3f3f3" stroke-width="1"/>
<line x1="2507.5" y1="694" x2="2507.5" y2="698" stroke="#f3f3f3" stroke-width="1"/>
<text x="54" y="617.9" class="tk" text-anchor="end" >100</text>
<text x="54" y="657.9" class="tk" text-anchor="end" >50</text>
<text x="54" y="689.2" class="tk" text-anchor="end" >0</text>
<text transform="translate(24,637) rotate(-90)" class="b" text-anchor="middle" font-size="11.2" fill="#333" id="yt2" textLength="105" lengthAdjust="spacingAndGlyphs">Positive Messerge..</text>
<text transform="translate(77.4,698.5) rotate(-90)" class="wk" text-anchor="end" >Woche</text>
<text transform="translate(92.6,698.5) rotate(-90)" class="wk" text-anchor="end" >1</text>
<text transform="translate(117.5,698.5) rotate(-90)" class="wk" text-anchor="end" >Woche</text>
<text transform="translate(132.7,698.5) rotate(-90)" class="wk" text-anchor="end" >2</text>
<text transform="translate(157.6,698.5) rotate(-90)" class="wk" text-anchor="end" >Woche</text>
<text transform="translate(172.8,698.5) rotate(-90)" class="wk" text-anchor="end" >3</text>
<text transform="translate(197.7,698.5) rotate(-90)" class="wk" text-anchor="end" >Woche</text>
<text transform="translate(212.9,698.5) rotate(-90)" class="wk" text-anchor="end" >4</text>
<text transform="translate(237.8,698.5) rotate(-90)" class="wk" text-anchor="end" >Woche</text>
<text transform="translate(253.0,698.5) rotate(-90)" class="wk" text-anchor="end" >5</text>
<text transform="translate(277.9,698.5) rotate(-90)" class="wk" text-anchor="end" >Woche</text>
<text transform="translate(293.1,698.5) rotate(-90)" class="wk" text-anchor="end" >6</text>
<text transform="translate(318.0,698.5) rotate(-90)" class="wk" text-anchor="end" >Woche</text>
<text transform="translate(333.2,698.5) rotate(-90)" class="wk" text-anchor="end" >7</text>
<text transform="translate(358.1,698.5) rotate(-90)" class="wk" text-anchor="end" >Woche</text>
<text transform="translate(373.3,698.5) rotate(-90)" class="wk" text-anchor="end" >8</text>
<text transform="translate(398.3,698.5) rotate(-90)" class="wk" text-anchor="end" >Woche</text>
<text transform="translate(413.5,698.5) rotate(-90)" class="wk" text-anchor="end" >9</text>
<text transform="translate(438.4,698.5) rotate(-90)" class="wk" text-anchor="end" >Woche</text>
<text transform="translate(453.6,698.5) rotate(-90)" class="wk" text-anchor="end" >10</text>
<text transform="translate(478.5,698.5) rotate(-90)" class="wk" text-anchor="end" >Woche</text>
<text transform="translate(493.7,698.5) rotate(-90)" class="wk" text-anchor="end" >11</text>
<text transform="translate(518.6,698.5) rotate(-90)" class="wk" text-anchor="end" >Woche</text>
<text transform="translate(533.8,698.5) rotate(-90)" class="wk" text-anchor="end" >12</text>
<text transform="translate(558.7,698.5) rotate(-90)" class="wk" text-anchor="end" >Woche</text>
<text transform="translate(573.9,698.5) rotate(-90)" class="wk" text-anchor="end" >13</text>
<text transform="translate(598.8,698.5) rotate(-90)" class="wk" text-anchor="end" >Woche</text>
<text transform="translate(614.0,698.5) rotate(-90)" class="wk" text-anchor="end" >14</text>
<text transform="translate(638.9,698.5) rotate(-90)" class="wk" text-anchor="end" >Woche</text>
<text transform="translate(654.1,698.5) rotate(-90)" class="wk" text-anchor="end" >15</text>
<text transform="translate(679.1,698.5) rotate(-90)" class="wk" text-anchor="end" >Woche</text>
<text transform="translate(694.3,698.5) rotate(-90)" class="wk" text-anchor="end" >16</text>
<text transform="translate(719.2,698.5) rotate(-90)" class="wk" text-anchor="end" >Woche</text>
<text transform="translate(734.4,698.5) rotate(-90)" class="wk" text-anchor="end" >17</text>
<text transform="translate(759.3,698.5) rotate(-90)" class="wk" text-anchor="end" >Woche</text>
<text transform="translate(774.5,698.5) rotate(-90)" class="wk" text-anchor="end" >18</text>
<text transform="translate(799.4,698.5) rotate(-90)" class="wk" text-anchor="end" >Woche</text>
<text transform="translate(814.6,698.5) rotate(-90)" class="wk" text-anchor="end" >19</text>
<text transform="translate(839.5,698.5) rotate(-90)" class="wk" text-anchor="end" >Woche</text>
<text transform="translate(854.7,698.5) rotate(-90)" class="wk" text-anchor="end" >20</text>
<text transform="translate(879.6,698.5) rotate(-90)" class="wk" text-anchor="end" >Woche</text>
<text transform="translate(894.8,698.5) rotate(-90)" class="wk" text-anchor="end" >21</text>
<text transform="translate(919.7,698.5) rotate(-90)" class="wk" text-anchor="end" >Woche</text>
<text transform="translate(934.9,698.5) rotate(-90)" class="wk" text-anchor="end" >22</text>
<text transform="translate(959.8,698.5) rotate(-90)" class="wk" text-anchor="end" >Woche</text>
<text transform="translate(975.0,698.5) rotate(-90)" class="wk" text-anchor="end" >23</text>
<text transform="translate(1000.0,698.5) rotate(-90)" class="wk" text-anchor="end" >Woche</text>
<text transform="translate(1015.2,698.5) rotate(-90)" class="wk" text-anchor="end" >24</text>
<text transform="translate(1040.1,698.5) rotate(-90)" class="wk" text-anchor="end" >Woche</text>
<text transform="translate(1055.3,698.5) rotate(-90)" class="wk" text-anchor="end" >25</text>
<text transform="translate(1080.2,698.5) rotate(-90)" class="wk" text-anchor="end" >Woche</text>
<text transform="translate(1095.4,698.5) rotate(-90)" class="wk" text-anchor="end" >26</text>
<text transform="translate(1120.3,698.5) rotate(-90)" class="wk" text-anchor="end" >Woche</text>
<text transform="translate(1135.5,698.5) rotate(-90)" class="wk" text-anchor="end" >27</text>
<text transform="translate(1160.4,698.5) rotate(-90)" class="wk" text-anchor="end" >Woche</text>
<text transform="translate(1175.6,698.5) rotate(-90)" class="wk" text-anchor="end" >28</text>
<text transform="translate(1200.5,698.5) rotate(-90)" class="wk" text-anchor="end" >Woche</text>
<text transform="translate(1215.7,698.5) rotate(-90)" class="wk" text-anchor="end" >29</text>
<text transform="translate(1240.6,698.5) rotate(-90)" class="wk" text-anchor="end" >Woche</text>
<text transform="translate(1255.8,698.5) rotate(-90)" class="wk" text-anchor="end" >30</text>
<text transform="translate(1280.8,698.5) rotate(-90)" class="wk" text-anchor="end" >Woche</text>
<text transform="translate(1296.0,698.5) rotate(-90)" class="wk" text-anchor="end" >31</text>
<text transform="translate(1320.9,698.5) rotate(-90)" class="wk" text-anchor="end" >Woche</text>
<text transform="translate(1336.1,698.5) rotate(-90)" class="wk" text-anchor="end" >32</text>
<text transform="translate(1361.0,698.5) rotate(-90)" class="wk" text-anchor="end" >Woche</text>
<text transform="translate(1376.2,698.5) rotate(-90)" class="wk" text-anchor="end" >33</text>
<text transform="translate(1401.1,698.5) rotate(-90)" class="wk" text-anchor="end" >Woche</text>
<text transform="translate(1416.3,698.5) rotate(-90)" class="wk" text-anchor="end" >34</text>
<text transform="translate(1441.2,698.5) rotate(-90)" class="wk" text-anchor="end" >Woche</text>
<text transform="translate(1456.4,698.5) rotate(-90)" class="wk" text-anchor="end" >35</text>
<text transform="translate(1481.3,698.5) rotate(-90)" class="wk" text-anchor="end" >Woche</text>
<text transform="translate(1496.5,698.5) rotate(-90)" class="wk" text-anchor="end" >36</text>
<text transform="translate(1521.4,698.5) rotate(-90)" class="wk" text-anchor="end" >Woche</text>
<text transform="translate(1536.6,698.5) rotate(-90)" class="wk" text-anchor="end" >37</text>
<text transform="translate(1561.5,698.5) rotate(-90)" class="wk" text-anchor="end" >Woche</text>
<text transform="translate(1576.7,698.5) rotate(-90)" class="wk" text-anchor="end" >38</text>
<text transform="translate(1601.7,698.5) rotate(-90)" class="wk" text-anchor="end" >Woche</text>
<text transform="translate(1616.9,698.5) rotate(-90)" class="wk" text-anchor="end" >39</text>
<text transform="translate(1641.8,698.5) rotate(-90)" class="wk" text-anchor="end" >Woche</text>
<text transform="translate(1657.0,698.5) rotate(-90)" class="wk" text-anchor="end" >40</text>
<text transform="translate(1681.9,698.5) rotate(-90)" class="wk" text-anchor="end" >Woche</text>
<text transform="translate(1697.1,698.5) rotate(-90)" class="wk" text-anchor="end" >41</text>
<text transform="translate(1722.0,698.5) rotate(-90)" class="wk" text-anchor="end" >Woche</text>
<text transform="translate(1737.2,698.5) rotate(-90)" class="wk" text-anchor="end" >42</text>
<text transform="translate(1762.1,698.5) rotate(-90)" class="wk" text-anchor="end" >Woche</text>
<text transform="translate(1777.3,698.5) rotate(-90)" class="wk" text-anchor="end" >43</text>
<text transform="translate(1802.2,698.5) rotate(-90)" class="wk" text-anchor="end" >Woche</text>
<text transform="translate(1817.4,698.5) rotate(-90)" class="wk" text-anchor="end" >44</text>
<text transform="translate(1842.3,698.5) rotate(-90)" class="wk" text-anchor="end" >Woche</text>
<text transform="translate(1857.5,698.5) rotate(-90)" class="wk" text-anchor="end" >45</text>
<text transform="translate(1882.5,698.5) rotate(-90)" class="wk" text-anchor="end" >Woche</text>
<text transform="translate(1897.7,698.5) rotate(-90)" class="wk" text-anchor="end" >46</text>
<text transform="translate(1922.6,698.5) rotate(-90)" class="wk" text-anchor="end" >Woche</text>
<text transform="translate(1937.8,698.5) rotate(-90)" class="wk" text-anchor="end" >47</text>
<text transform="translate(1962.7,698.5) rotate(-90)" class="wk" text-anchor="end" >Woche</text>
<text transform="translate(1977.9,698.5) rotate(-90)" class="wk" text-anchor="end" >48</text>
<text transform="translate(2002.8,698.5) rotate(-90)" class="wk" text-anchor="end" >Woche</text>
<text transform="translate(2018.0,698.5) rotate(-90)" class="wk" text-anchor="end" >49</text>
<text transform="translate(2042.9,698.5) rotate(-90)" class="wk" text-anchor="end" >Woche</text>
<text transform="translate(2058.1,698.5) rotate(-90)" class="wk" text-anchor="end" >50</text>
<text transform="translate(2083.0,698.5) rotate(-90)" class="wk" text-anchor="end" >Woche</text>
<text transform="translate(2098.2,698.5) rotate(-90)" class="wk" text-anchor="end" >51</text>
<text transform="translate(2123.1,698.5) rotate(-90)" class="wk" text-anchor="end" >Woche</text>
<text transform="translate(2138.3,698.5) rotate(-90)" class="wk" text-anchor="end" >52</text>
<text transform="translate(2163.2,698.5) rotate(-90)" class="wk" text-anchor="end" >Woche</text>
<text transform="translate(2178.4,698.5) rotate(-90)" class="wk" text-anchor="end" >53</text>
<text transform="translate(2203.4,698.5) rotate(-90)" class="wk" text-anchor="end" >Woche</text>
<text transform="translate(2218.6,698.5) rotate(-90)" class="wk" text-anchor="end" >1</text>
<text transform="translate(2243.5,698.5) rotate(-90)" class="wk" text-anchor="end" >Woche</text>
<text transform="translate(2258.7,698.5) rotate(-90)" class="wk" text-anchor="end" >2</text>
<text transform="translate(2283.6,698.5) rotate(-90)" class="wk" text-anchor="end" >Woche</text>
<text transform="translate(2298.8,698.5) rotate(-90)" class="wk" text-anchor="end" >3</text>
<text transform="translate(2323.7,698.5) rotate(-90)" class="wk" text-anchor="end" >Woche</text>
<text transform="translate(2338.9,698.5) rotate(-90)" class="wk" text-anchor="end" >4</text>
<text transform="translate(2363.9,698.5) rotate(-90)" class="wk" text-anchor="end" >Woche</text>
<text transform="translate(2379.1,698.5) rotate(-90)" class="wk" text-anchor="end" >5</text>
<text transform="translate(2404.0,698.5) rotate(-90)" class="wk" text-anchor="end" >Woche</text>
<text transform="translate(2419.2,698.5) rotate(-90)" class="wk" text-anchor="end" >6</text>
<text transform="translate(2444.1,698.5) rotate(-90)" class="wk" text-anchor="end" >Woche</text>
<text transform="translate(2459.3,698.5) rotate(-90)" class="wk" text-anchor="end" >7</text>
<text transform="translate(2484.2,698.5) rotate(-90)" class="wk" text-anchor="end" >Woche</text>
<text transform="translate(2499.4,698.5) rotate(-90)" class="wk" text-anchor="end" >8</text>
<text transform="translate(2524.3,698.5) rotate(-90)" class="wk" text-anchor="end" >Woche</text>
<text transform="translate(2539.5,698.5) rotate(-90)" class="wk" text-anchor="end" >9</text>
<text x="12" y="762.2" class="b" text-anchor="start" font-size="10.8" fill="#333" textLength="44.4" lengthAdjust="spacingAndGlyphs">Analysen</text>
<rect x="82.50" y="751.40" width="13.30" height="13.30" fill="#e64445"/>
<text x="100.7" y="763" class="lg2" text-anchor="start" >Influenza A Virus</text>
<rect x="249.40" y="751.40" width="13.30" height="13.30" fill="#72b8c6"/>
<text x="267.6" y="763" class="lg2" text-anchor="start" >Influenza B Virus</text>
<rect x="416.30" y="751.40" width="13.30" height="13.30" fill="#2b5784"/>
<text x="434.5" y="763" class="lg2" text-anchor="start" >RSV</text>
<rect x="583.20" y="751.40" width="13.30" height="13.30" fill="#f7a541"/>
<text x="601.4" y="763" class="lg2" text-anchor="start" >Adenovirus</text>
<rect x="750.10" y="751.40" width="13.30" height="13.30" fill="#146c36"/>
<text x="768.3" y="763" class="lg2" text-anchor="start" >Enterovirus/Rhinovirus</text>
<rect x="917.00" y="751.40" width="13.30" height="13.30" fill="#439fb9"/>
<text x="935.2" y="763" class="lg2" text-anchor="start" >Metapneumovirus</text>
<rect x="1083.90" y="751.40" width="13.30" height="13.30" fill="#c0603a"/>
<text x="1102.1" y="763" class="lg2" text-anchor="start" >Parainfluenzaviren</text>
<rect x="1250.80" y="751.40" width="13.30" height="13.30" fill="#808e96"/>
<text x="1269.0" y="763" class="lg2" text-anchor="start" >Bocavirus</text>
<rect x="1417.70" y="751.40" width="13.30" height="13.30" fill="#82b45a"/>
<text x="1435.9" y="763" class="lg2" text-anchor="start" >endem. Coronaviren</text>
<text x="65.6" y="796.8" class="b" text-anchor="start" font-size="10.9" fill="#333" id="tt2" textLength="183.1" lengthAdjust="spacingAndGlyphs">Gesamtanforderungen Multiplex-PCR</text>
<line x1="61.5" y1="807.5" x2="61.5" y2="871.3" stroke="#cacaca" stroke-width="1"/>
<line x1="61.5" y1="871.3" x2="61.5" y2="906" stroke="#e2e2e2" stroke-width="1"/>
<line x1="2186.5" y1="807.5" x2="2186.5" y2="906" stroke="#cacaca" stroke-width="1"/>
<line x1="2546.5" y1="807.5" x2="2546.5" y2="906" stroke="#cacaca" stroke-width="1"/>
<line x1="61" y1="906.5" x2="2547" y2="906.5" stroke="#d9d9d9" stroke-width="1"/>
<line x1="61" y1="871.3" x2="2546" y2="871.3" stroke="#e6e6e6" stroke-width="1"/>
<text x="1123.5" y="822.2" class="yr b" text-anchor="middle" style="fill:#787878">2025</text>
<text x="2366.0" y="822.2" class="yr b" text-anchor="middle" style="fill:#787878">2026</text>
<text x="81.8" y="845.8" class="th b thb" text-anchor="middle" >Woch</text>
<text x="81.8" y="860.7" class="th b thb" text-anchor="middle" >e 1</text>
<text x="81.8" y="887.6" class="tv b" text-anchor="middle" >545</text>
<text x="121.9" y="845.8" class="th b thb" text-anchor="middle" >Woch</text>
<text x="121.9" y="860.7" class="th b thb" text-anchor="middle" >e 2</text>
<text x="121.9" y="887.6" class="tv b" text-anchor="middle" >1.144</text>
<text x="162.0" y="845.8" class="th b thb" text-anchor="middle" >Woch</text>
<text x="162.0" y="860.7" class="th b thb" text-anchor="middle" >e 3</text>
<text x="162.0" y="887.6" class="tv b" text-anchor="middle" >1.353</text>
<text x="202.1" y="845.8" class="th b thb" text-anchor="middle" >Woch</text>
<text x="202.1" y="860.7" class="th b thb" text-anchor="middle" >e 4</text>
<text x="202.1" y="887.6" class="tv b" text-anchor="middle" >1.180</text>
<text x="242.2" y="845.8" class="th b thb" text-anchor="middle" >Woch</text>
<text x="242.2" y="860.7" class="th b thb" text-anchor="middle" >e 5</text>
<text x="242.2" y="887.6" class="tv b" text-anchor="middle" >1.377</text>
<text x="282.3" y="845.8" class="th b thb" text-anchor="middle" >Woch</text>
<text x="282.3" y="860.7" class="th b thb" text-anchor="middle" >e 6</text>
<text x="282.3" y="887.6" class="tv b" text-anchor="middle" >1.255</text>
<text x="322.4" y="845.8" class="th b thb" text-anchor="middle" >Woch</text>
<text x="322.4" y="860.7" class="th b thb" text-anchor="middle" >e 7</text>
<text x="322.4" y="887.6" class="tv b" text-anchor="middle" >1.103</text>
<text x="362.5" y="845.8" class="th b thb" text-anchor="middle" >Woch</text>
<text x="362.5" y="860.7" class="th b thb" text-anchor="middle" >e 8</text>
<text x="362.5" y="887.6" class="tv b" text-anchor="middle" >1.186</text>
<text x="402.6" y="845.8" class="th b thb" text-anchor="middle" >Woch</text>
<text x="402.6" y="860.7" class="th b thb" text-anchor="middle" >e 9</text>
<text x="402.6" y="887.6" class="tv b" text-anchor="middle" >1.125</text>
<text x="442.7" y="845.8" class="th b thb" text-anchor="middle" >Woch</text>
<text x="442.7" y="860.7" class="th b thb" text-anchor="middle" >e 10</text>
<text x="442.7" y="887.6" class="tv b" text-anchor="middle" >935</text>
<text x="482.8" y="845.8" class="th b thb" text-anchor="middle" >Woch</text>
<text x="482.8" y="860.7" class="th b thb" text-anchor="middle" >e 11</text>
<text x="482.8" y="887.6" class="tv b" text-anchor="middle" >792</text>
<text x="522.9" y="845.8" class="th b thb" text-anchor="middle" >Woch</text>
<text x="522.9" y="860.7" class="th b thb" text-anchor="middle" >e 12</text>
<text x="522.9" y="887.6" class="tv b" text-anchor="middle" >856</text>
<text x="563.0" y="845.8" class="th b thb" text-anchor="middle" >Woch</text>
<text x="563.0" y="860.7" class="th b thb" text-anchor="middle" >e 13</text>
<text x="563.0" y="887.6" class="tv b" text-anchor="middle" >814</text>
<text x="603.1" y="845.8" class="th b thb" text-anchor="middle" >Woch</text>
<text x="603.1" y="860.7" class="th b thb" text-anchor="middle" >e 14</text>
<text x="603.1" y="887.6" class="tv b" text-anchor="middle" >676</text>
<text x="643.2" y="845.8" class="th b thb" text-anchor="middle" >Woch</text>
<text x="643.2" y="860.7" class="th b thb" text-anchor="middle" >e 15</text>
<text x="643.2" y="887.6" class="tv b" text-anchor="middle" >657</text>
<text x="683.3" y="845.8" class="th b thb" text-anchor="middle" >Woch</text>
<text x="683.3" y="860.7" class="th b thb" text-anchor="middle" >e 16</text>
<text x="683.3" y="887.6" class="tv b" text-anchor="middle" >591</text>
<text x="723.4" y="845.8" class="th b thb" text-anchor="middle" >Woch</text>
<text x="723.4" y="860.7" class="th b thb" text-anchor="middle" >e 17</text>
<text x="723.4" y="887.6" class="tv b" text-anchor="middle" >543</text>
<text x="763.5" y="845.8" class="th b thb" text-anchor="middle" >Woch</text>
<text x="763.5" y="860.7" class="th b thb" text-anchor="middle" >e 18</text>
<text x="763.5" y="887.6" class="tv b" text-anchor="middle" >514</text>
<text x="803.5" y="845.8" class="th b thb" text-anchor="middle" >Woch</text>
<text x="803.5" y="860.7" class="th b thb" text-anchor="middle" >e 19</text>
<text x="803.5" y="887.6" class="tv b" text-anchor="middle" >448</text>
<text x="843.6" y="845.8" class="th b thb" text-anchor="middle" >Woch</text>
<text x="843.6" y="860.7" class="th b thb" text-anchor="middle" >e 20</text>
<text x="843.6" y="887.6" class="tv b" text-anchor="middle" >478</text>
<text x="883.7" y="845.8" class="th b thb" text-anchor="middle" >Woch</text>
<text x="883.7" y="860.7" class="th b thb" text-anchor="middle" >e 21</text>
<text x="883.7" y="887.6" class="tv b" text-anchor="middle" >444</text>
<text x="923.8" y="845.8" class="th b thb" text-anchor="middle" >Woch</text>
<text x="923.8" y="860.7" class="th b thb" text-anchor="middle" >e 22</text>
<text x="923.8" y="887.6" class="tv b" text-anchor="middle" >457</text>
<text x="963.9" y="845.8" class="th b thb" text-anchor="middle" >Woch</text>
<text x="963.9" y="860.7" class="th b thb" text-anchor="middle" >e 23</text>
<text x="963.9" y="887.6" class="tv b" text-anchor="middle" >447</text>
<text x="1004.0" y="845.8" class="th b thb" text-anchor="middle" >Woch</text>
<text x="1004.0" y="860.7" class="th b thb" text-anchor="middle" >e 24</text>
<text x="1004.0" y="887.6" class="tv b" text-anchor="middle" >399</text>
<text x="1044.1" y="845.8" class="th b thb" text-anchor="middle" >Woch</text>
<text x="1044.1" y="860.7" class="th b thb" text-anchor="middle" >e 25</text>
<text x="1044.1" y="887.6" class="tv b" text-anchor="middle" >424</text>
<text x="1084.2" y="845.8" class="th b thb" text-anchor="middle" >Woch</text>
<text x="1084.2" y="860.7" class="th b thb" text-anchor="middle" >e 26</text>
<text x="1084.2" y="887.6" class="tv b" text-anchor="middle" >419</text>
<text x="1124.3" y="845.8" class="th b thb" text-anchor="middle" >Woch</text>
<text x="1124.3" y="860.7" class="th b thb" text-anchor="middle" >e 27</text>
<text x="1124.3" y="887.6" class="tv b" text-anchor="middle" >357</text>
<text x="1164.4" y="845.8" class="th b thb" text-anchor="middle" >Woch</text>
<text x="1164.4" y="860.7" class="th b thb" text-anchor="middle" >e 28</text>
<text x="1164.4" y="887.6" class="tv b" text-anchor="middle" >325</text>
<text x="1204.5" y="845.8" class="th b thb" text-anchor="middle" >Woch</text>
<text x="1204.5" y="860.7" class="th b thb" text-anchor="middle" >e 29</text>
<text x="1204.5" y="887.6" class="tv b" text-anchor="middle" >330</text>
<text x="1244.6" y="845.8" class="th b thb" text-anchor="middle" >Woch</text>
<text x="1244.6" y="860.7" class="th b thb" text-anchor="middle" >e 30</text>
<text x="1244.6" y="887.6" class="tv b" text-anchor="middle" >427</text>
<text x="1284.7" y="845.8" class="th b thb" text-anchor="middle" >Woch</text>
<text x="1284.7" y="860.7" class="th b thb" text-anchor="middle" >e 31</text>
<text x="1284.7" y="887.6" class="tv b" text-anchor="middle" >394</text>
<text x="1324.8" y="845.8" class="th b thb" text-anchor="middle" >Woch</text>
<text x="1324.8" y="860.7" class="th b thb" text-anchor="middle" >e 32</text>
<text x="1324.8" y="887.6" class="tv b" text-anchor="middle" >442</text>
<text x="1364.9" y="845.8" class="th b thb" text-anchor="middle" >Woch</text>
<text x="1364.9" y="860.7" class="th b thb" text-anchor="middle" >e 33</text>
<text x="1364.9" y="887.6" class="tv b" text-anchor="middle" >391</text>
<text x="1405.0" y="845.8" class="th b thb" text-anchor="middle" >Woch</text>
<text x="1405.0" y="860.7" class="th b thb" text-anchor="middle" >e 34</text>
<text x="1405.0" y="887.6" class="tv b" text-anchor="middle" >399</text>
<text x="1445.1" y="845.8" class="th b thb" text-anchor="middle" >Woch</text>
<text x="1445.1" y="860.7" class="th b thb" text-anchor="middle" >e 35</text>
<text x="1445.1" y="887.6" class="tv b" text-anchor="middle" >503</text>
<text x="1485.1" y="845.8" class="th b thb" text-anchor="middle" >Woch</text>
<text x="1485.1" y="860.7" class="th b thb" text-anchor="middle" >e 36</text>
<text x="1485.1" y="887.6" class="tv b" text-anchor="middle" >525</text>
<text x="1525.2" y="845.8" class="th b thb" text-anchor="middle" >Woch</text>
<text x="1525.2" y="860.7" class="th b thb" text-anchor="middle" >e 37</text>
<text x="1525.2" y="887.6" class="tv b" text-anchor="middle" >437</text>
<text x="1565.3" y="845.8" class="th b thb" text-anchor="middle" >Woch</text>
<text x="1565.3" y="860.7" class="th b thb" text-anchor="middle" >e 38</text>
<text x="1565.3" y="887.6" class="tv b" text-anchor="middle" >453</text>
<text x="1605.4" y="845.8" class="th b thb" text-anchor="middle" >Woch</text>
<text x="1605.4" y="860.7" class="th b thb" text-anchor="middle" >e 39</text>
<text x="1605.4" y="887.6" class="tv b" text-anchor="middle" >463</text>
<text x="1645.5" y="845.8" class="th b thb" text-anchor="middle" >Woch</text>
<text x="1645.5" y="860.7" class="th b thb" text-anchor="middle" >e 40</text>
<text x="1645.5" y="887.6" class="tv b" text-anchor="middle" >630</text>
<text x="1685.6" y="845.8" class="th b thb" text-anchor="middle" >Woch</text>
<text x="1685.6" y="860.7" class="th b thb" text-anchor="middle" >e 41</text>
<text x="1685.6" y="887.6" class="tv b" text-anchor="middle" >772</text>
<text x="1725.7" y="845.8" class="th b thb" text-anchor="middle" >Woch</text>
<text x="1725.7" y="860.7" class="th b thb" text-anchor="middle" >e 42</text>
<text x="1725.7" y="887.6" class="tv b" text-anchor="middle" >708</text>
<text x="1765.8" y="845.8" class="th b thb" text-anchor="middle" >Woch</text>
<text x="1765.8" y="860.7" class="th b thb" text-anchor="middle" >e 43</text>
<text x="1765.8" y="887.6" class="tv b" text-anchor="middle" >744</text>
<text x="1805.9" y="845.8" class="th b thb" text-anchor="middle" >Woch</text>
<text x="1805.9" y="860.7" class="th b thb" text-anchor="middle" >e 44</text>
<text x="1805.9" y="887.6" class="tv b" text-anchor="middle" >701</text>
<text x="1846.0" y="845.8" class="th b thb" text-anchor="middle" >Woch</text>
<text x="1846.0" y="860.7" class="th b thb" text-anchor="middle" >e 45</text>
<text x="1846.0" y="887.6" class="tv b" text-anchor="middle" >758</text>
<text x="1886.1" y="845.8" class="th b thb" text-anchor="middle" >Woch</text>
<text x="1886.1" y="860.7" class="th b thb" text-anchor="middle" >e 46</text>
<text x="1886.1" y="887.6" class="tv b" text-anchor="middle" >694</text>
<text x="1926.2" y="845.8" class="th b thb" text-anchor="middle" >Woch</text>
<text x="1926.2" y="860.7" class="th b thb" text-anchor="middle" >e 47</text>
<text x="1926.2" y="887.6" class="tv b" text-anchor="middle" >628</text>
<text x="1966.3" y="845.8" class="th b thb" text-anchor="middle" >Woch</text>
<text x="1966.3" y="860.7" class="th b thb" text-anchor="middle" >e 48</text>
<text x="1966.3" y="887.6" class="tv b" text-anchor="middle" >679</text>
<text x="2006.4" y="845.8" class="th b thb" text-anchor="middle" >Woch</text>
<text x="2006.4" y="860.7" class="th b thb" text-anchor="middle" >e 49</text>
<text x="2006.4" y="887.6" class="tv b" text-anchor="middle" >776</text>
<text x="2046.5" y="845.8" class="th b thb" text-anchor="middle" >Woch</text>
<text x="2046.5" y="860.7" class="th b thb" text-anchor="middle" >e 50</text>
<text x="2046.5" y="887.6" class="tv b" text-anchor="middle" >917</text>
<text x="2086.6" y="845.8" class="th b thb" text-anchor="middle" >Woch</text>
<text x="2086.6" y="860.7" class="th b thb" text-anchor="middle" >e 51</text>
<text x="2086.6" y="887.6" class="tv b" text-anchor="middle" >847</text>
<text x="2126.7" y="845.8" class="th b thb" text-anchor="middle" >Woch</text>
<text x="2126.7" y="860.7" class="th b thb" text-anchor="middle" >e 52</text>
<text x="2126.7" y="887.6" class="tv b" text-anchor="middle" >650</text>
<text x="2166.8" y="845.8" class="th b thb" text-anchor="middle" >Woch</text>
<text x="2166.8" y="860.7" class="th b thb" text-anchor="middle" >e 53</text>
<text x="2166.8" y="887.6" class="tv b" text-anchor="middle" >354</text>
<text x="2206.7" y="845.8" class="th b thb" text-anchor="middle" >Woch</text>
<text x="2206.7" y="860.7" class="th b thb" text-anchor="middle" >e 1</text>
<text x="2206.7" y="887.6" class="tv b" text-anchor="middle" >378</text>
<text x="2246.7" y="845.8" class="th b thb" text-anchor="middle" >Woch</text>
<text x="2246.7" y="860.7" class="th b thb" text-anchor="middle" >e 2</text>
<text x="2246.7" y="887.6" class="tv b" text-anchor="middle" >904</text>
<text x="2286.7" y="845.8" class="th b thb" text-anchor="middle" >Woch</text>
<text x="2286.7" y="860.7" class="th b thb" text-anchor="middle" >e 3</text>
<text x="2286.7" y="887.6" class="tv b" text-anchor="middle" >957</text>
<text x="2326.7" y="845.8" class="th b thb" text-anchor="middle" >Woch</text>
<text x="2326.7" y="860.7" class="th b thb" text-anchor="middle" >e 4</text>
<text x="2326.7" y="887.6" class="tv b" text-anchor="middle" >1.025</text>
<text x="2366.7" y="845.8" class="th b thb" text-anchor="middle" >Woch</text>
<text x="2366.7" y="860.7" class="th b thb" text-anchor="middle" >e 5</text>
<text x="2366.7" y="887.6" class="tv b" text-anchor="middle" >909</text>
<text x="2406.7" y="845.8" class="th b thb" text-anchor="middle" >Woch</text>
<text x="2406.7" y="860.7" class="th b thb" text-anchor="middle" >e 6</text>
<text x="2406.7" y="887.6" class="tv b" text-anchor="middle" >987</text>
<text x="2446.7" y="845.8" class="th b thb" text-anchor="middle" >Woch</text>
<text x="2446.7" y="860.7" class="th b thb" text-anchor="middle" >e 7</text>
<text x="2446.7" y="887.6" class="tv b" text-anchor="middle" >977</text>
<text x="2486.7" y="845.8" class="th b thb" text-anchor="middle" >Woch</text>
<text x="2486.7" y="860.7" class="th b thb" text-anchor="middle" >e 8</text>
<text x="2486.7" y="887.6" class="tv b" text-anchor="middle" >918</text>
<text x="2526.7" y="845.8" class="th b thb" text-anchor="middle" >Woch</text>
<text x="2526.7" y="860.7" class="th b thb" text-anchor="middle" >e 9</text>
<text x="2526.7" y="887.6" class="tv b" text-anchor="middle" >530</text>
</svg></body></html>
